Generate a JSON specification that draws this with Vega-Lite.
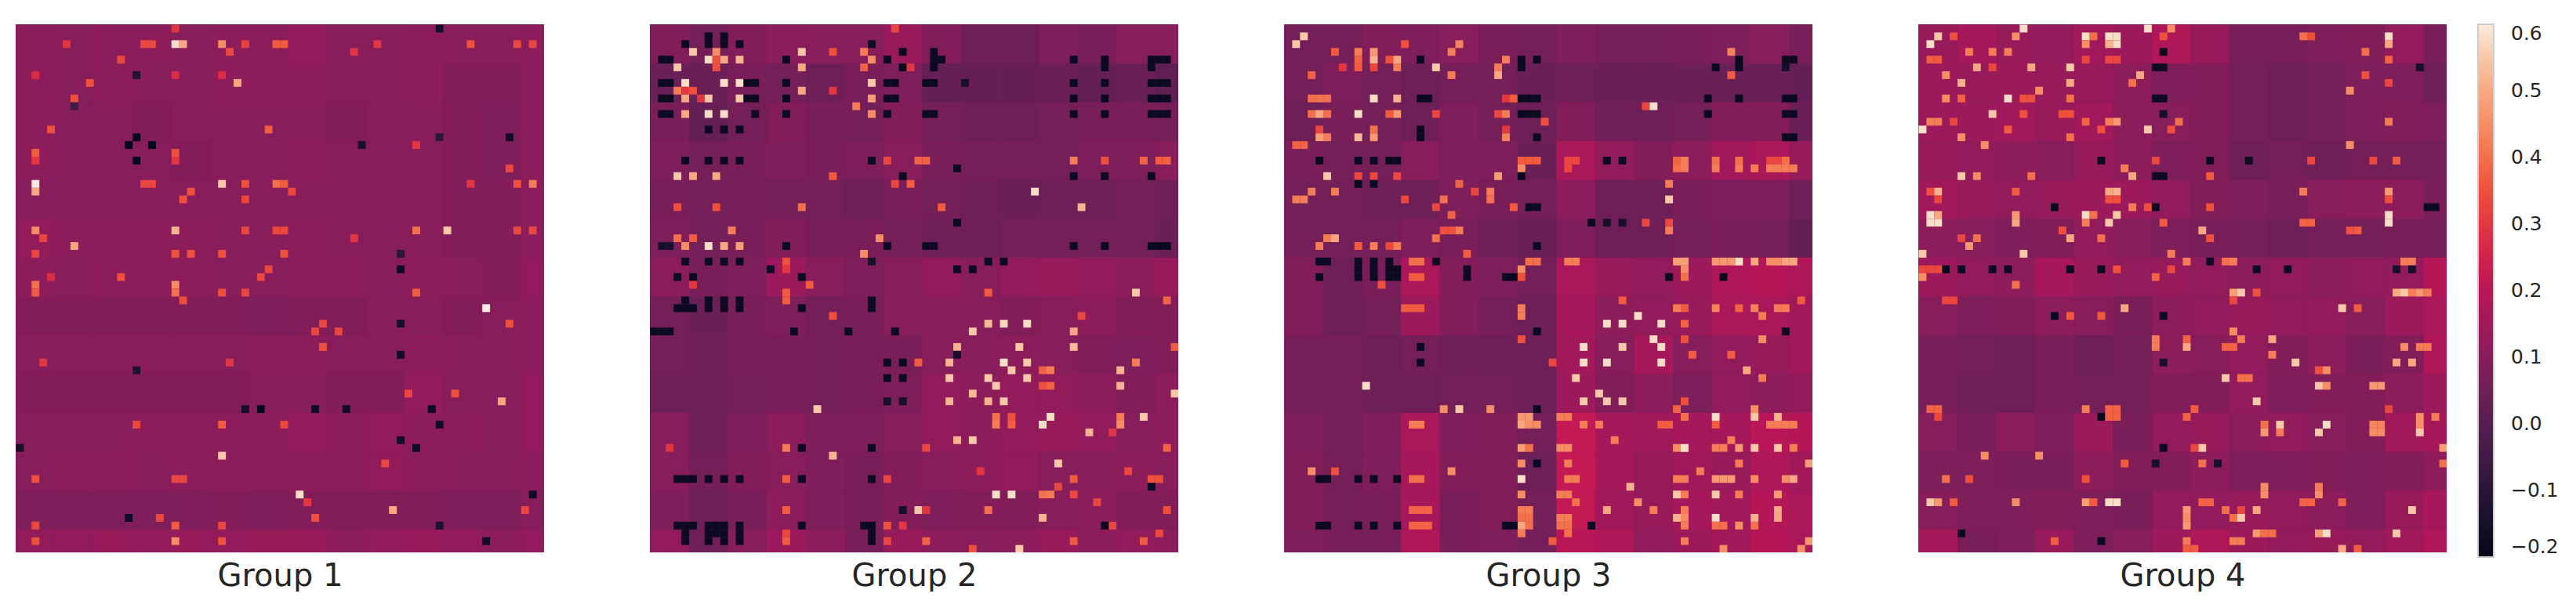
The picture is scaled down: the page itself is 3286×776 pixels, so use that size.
{"$schema":"https://vega.github.io/schema/vega-lite/v6.json","background":"white","padding":{"left":20,"top":31,"right":0,"bottom":0},"autosize":{"type":"pad"},"config":{"view":{"stroke":null,"fill":"#7d1e5b"},"font":"DejaVu Sans","concat":{"spacing":135}},
"datasets":{"b":[
{"g":1,"x":0,"y":0,"v":0.11},{"g":1,"x":5,"y":0,"v":0.10},{"g":1,"x":10,"y":0,"v":0.11},{"g":1,"x":15,"y":0,"v":0.11},{"g":1,"x":20,"y":0,"v":0.10},{"g":1,"x":25,"y":0,"v":0.11},{"g":1,"x":30,"y":0,"v":0.11},{"g":1,"x":35,"y":0,"v":0.12},{"g":1,"x":40,"y":0,"v":0.10},{"g":1,"x":45,"y":0,"v":0.10},{"g":1,"x":50,"y":0,"v":0.11},{"g":1,"x":55,"y":0,"v":0.10},{"g":1,"x":60,"y":0,"v":0.10},{"g":1,"x":65,"y":0,"v":0.11},
{"g":1,"x":0,"y":5,"v":0.11},{"g":1,"x":5,"y":5,"v":0.10},{"g":1,"x":10,"y":5,"v":0.11},{"g":1,"x":15,"y":5,"v":0.10},{"g":1,"x":20,"y":5,"v":0.10},{"g":1,"x":25,"y":5,"v":0.11},{"g":1,"x":30,"y":5,"v":0.11},{"g":1,"x":35,"y":5,"v":0.11},{"g":1,"x":40,"y":5,"v":0.10},{"g":1,"x":45,"y":5,"v":0.10},{"g":1,"x":50,"y":5,"v":0.11},{"g":1,"x":55,"y":5,"v":0.09},{"g":1,"x":60,"y":5,"v":0.09},{"g":1,"x":65,"y":5,"v":0.11},
{"g":1,"x":0,"y":10,"v":0.11},{"g":1,"x":5,"y":10,"v":0.10},{"g":1,"x":10,"y":10,"v":0.10},{"g":1,"x":15,"y":10,"v":0.09},{"g":1,"x":20,"y":10,"v":0.10},{"g":1,"x":25,"y":10,"v":0.10},{"g":1,"x":30,"y":10,"v":0.10},{"g":1,"x":35,"y":10,"v":0.10},{"g":1,"x":40,"y":10,"v":0.09},{"g":1,"x":45,"y":10,"v":0.10},{"g":1,"x":50,"y":10,"v":0.10},{"g":1,"x":55,"y":10,"v":0.09},{"g":1,"x":60,"y":10,"v":0.08},{"g":1,"x":65,"y":10,"v":0.11},
{"g":1,"x":0,"y":15,"v":0.11},{"g":1,"x":5,"y":15,"v":0.10},{"g":1,"x":10,"y":15,"v":0.10},{"g":1,"x":15,"y":15,"v":0.10},{"g":1,"x":20,"y":15,"v":0.09},{"g":1,"x":25,"y":15,"v":0.10},{"g":1,"x":30,"y":15,"v":0.10},{"g":1,"x":35,"y":15,"v":0.11},{"g":1,"x":40,"y":15,"v":0.10},{"g":1,"x":45,"y":15,"v":0.10},{"g":1,"x":50,"y":15,"v":0.10},{"g":1,"x":55,"y":15,"v":0.09},{"g":1,"x":60,"y":15,"v":0.08},{"g":1,"x":65,"y":15,"v":0.11},
{"g":1,"x":0,"y":20,"v":0.10},{"g":1,"x":5,"y":20,"v":0.10},{"g":1,"x":10,"y":20,"v":0.10},{"g":1,"x":15,"y":20,"v":0.10},{"g":1,"x":20,"y":20,"v":0.10},{"g":1,"x":25,"y":20,"v":0.10},{"g":1,"x":30,"y":20,"v":0.10},{"g":1,"x":35,"y":20,"v":0.10},{"g":1,"x":40,"y":20,"v":0.10},{"g":1,"x":45,"y":20,"v":0.10},{"g":1,"x":50,"y":20,"v":0.10},{"g":1,"x":55,"y":20,"v":0.09},{"g":1,"x":60,"y":20,"v":0.09},{"g":1,"x":65,"y":20,"v":0.11},
{"g":1,"x":0,"y":25,"v":0.12},{"g":1,"x":5,"y":25,"v":0.11},{"g":1,"x":10,"y":25,"v":0.11},{"g":1,"x":15,"y":25,"v":0.11},{"g":1,"x":20,"y":25,"v":0.11},{"g":1,"x":25,"y":25,"v":0.10},{"g":1,"x":30,"y":25,"v":0.10},{"g":1,"x":35,"y":25,"v":0.11},{"g":1,"x":40,"y":25,"v":0.10},{"g":1,"x":45,"y":25,"v":0.10},{"g":1,"x":50,"y":25,"v":0.10},{"g":1,"x":55,"y":25,"v":0.09},{"g":1,"x":60,"y":25,"v":0.09},{"g":1,"x":65,"y":25,"v":0.11},
{"g":1,"x":0,"y":30,"v":0.11},{"g":1,"x":5,"y":30,"v":0.10},{"g":1,"x":10,"y":30,"v":0.11},{"g":1,"x":15,"y":30,"v":0.11},{"g":1,"x":20,"y":30,"v":0.11},{"g":1,"x":25,"y":30,"v":0.10},{"g":1,"x":30,"y":30,"v":0.10},{"g":1,"x":35,"y":30,"v":0.11},{"g":1,"x":40,"y":30,"v":0.11},{"g":1,"x":45,"y":30,"v":0.10},{"g":1,"x":50,"y":30,"v":0.11},{"g":1,"x":55,"y":30,"v":0.10},{"g":1,"x":60,"y":30,"v":0.09},{"g":1,"x":65,"y":30,"v":0.12},
{"g":1,"x":0,"y":35,"v":0.09},{"g":1,"x":5,"y":35,"v":0.09},{"g":1,"x":10,"y":35,"v":0.09},{"g":1,"x":15,"y":35,"v":0.09},{"g":1,"x":20,"y":35,"v":0.09},{"g":1,"x":25,"y":35,"v":0.09},{"g":1,"x":30,"y":35,"v":0.08},{"g":1,"x":35,"y":35,"v":0.09},{"g":1,"x":40,"y":35,"v":0.09},{"g":1,"x":45,"y":35,"v":0.10},{"g":1,"x":50,"y":35,"v":0.10},{"g":1,"x":55,"y":35,"v":0.09},{"g":1,"x":60,"y":35,"v":0.10},{"g":1,"x":65,"y":35,"v":0.11},
{"g":1,"x":0,"y":40,"v":0.10},{"g":1,"x":5,"y":40,"v":0.10},{"g":1,"x":10,"y":40,"v":0.10},{"g":1,"x":15,"y":40,"v":0.10},{"g":1,"x":20,"y":40,"v":0.10},{"g":1,"x":25,"y":40,"v":0.10},{"g":1,"x":30,"y":40,"v":0.11},{"g":1,"x":35,"y":40,"v":0.11},{"g":1,"x":40,"y":40,"v":0.10},{"g":1,"x":45,"y":40,"v":0.10},{"g":1,"x":50,"y":40,"v":0.11},{"g":1,"x":55,"y":40,"v":0.10},{"g":1,"x":60,"y":40,"v":0.10},{"g":1,"x":65,"y":40,"v":0.11},
{"g":1,"x":0,"y":45,"v":0.09},{"g":1,"x":5,"y":45,"v":0.09},{"g":1,"x":10,"y":45,"v":0.09},{"g":1,"x":15,"y":45,"v":0.09},{"g":1,"x":20,"y":45,"v":0.09},{"g":1,"x":25,"y":45,"v":0.09},{"g":1,"x":30,"y":45,"v":0.10},{"g":1,"x":35,"y":45,"v":0.10},{"g":1,"x":40,"y":45,"v":0.09},{"g":1,"x":45,"y":45,"v":0.09},{"g":1,"x":50,"y":45,"v":0.12},{"g":1,"x":55,"y":45,"v":0.10},{"g":1,"x":60,"y":45,"v":0.10},{"g":1,"x":65,"y":45,"v":0.12},
{"g":1,"x":0,"y":50,"v":0.10},{"g":1,"x":5,"y":50,"v":0.10},{"g":1,"x":10,"y":50,"v":0.10},{"g":1,"x":15,"y":50,"v":0.11},{"g":1,"x":20,"y":50,"v":0.11},{"g":1,"x":25,"y":50,"v":0.11},{"g":1,"x":30,"y":50,"v":0.11},{"g":1,"x":35,"y":50,"v":0.12},{"g":1,"x":40,"y":50,"v":0.11},{"g":1,"x":45,"y":50,"v":0.12},{"g":1,"x":50,"y":50,"v":0.11},{"g":1,"x":55,"y":50,"v":0.11},{"g":1,"x":60,"y":50,"v":0.10},{"g":1,"x":65,"y":50,"v":0.12},
{"g":1,"x":0,"y":55,"v":0.10},{"g":1,"x":5,"y":55,"v":0.11},{"g":1,"x":10,"y":55,"v":0.11},{"g":1,"x":15,"y":55,"v":0.10},{"g":1,"x":20,"y":55,"v":0.11},{"g":1,"x":25,"y":55,"v":0.11},{"g":1,"x":30,"y":55,"v":0.11},{"g":1,"x":35,"y":55,"v":0.11},{"g":1,"x":40,"y":55,"v":0.11},{"g":1,"x":45,"y":55,"v":0.12},{"g":1,"x":50,"y":55,"v":0.11},{"g":1,"x":55,"y":55,"v":0.10},{"g":1,"x":60,"y":55,"v":0.10},{"g":1,"x":65,"y":55,"v":0.11},
{"g":1,"x":0,"y":60,"v":0.08},{"g":1,"x":5,"y":60,"v":0.08},{"g":1,"x":10,"y":60,"v":0.08},{"g":1,"x":15,"y":60,"v":0.08},{"g":1,"x":20,"y":60,"v":0.08},{"g":1,"x":25,"y":60,"v":0.09},{"g":1,"x":30,"y":60,"v":0.08},{"g":1,"x":35,"y":60,"v":0.09},{"g":1,"x":40,"y":60,"v":0.09},{"g":1,"x":45,"y":60,"v":0.09},{"g":1,"x":50,"y":60,"v":0.09},{"g":1,"x":55,"y":60,"v":0.08},{"g":1,"x":60,"y":60,"v":0.08},{"g":1,"x":65,"y":60,"v":0.10},
{"g":1,"x":0,"y":65,"v":0.12},{"g":1,"x":5,"y":65,"v":0.12},{"g":1,"x":10,"y":65,"v":0.13},{"g":1,"x":15,"y":65,"v":0.12},{"g":1,"x":20,"y":65,"v":0.13},{"g":1,"x":25,"y":65,"v":0.12},{"g":1,"x":30,"y":65,"v":0.13},{"g":1,"x":35,"y":65,"v":0.13},{"g":1,"x":40,"y":65,"v":0.11},{"g":1,"x":45,"y":65,"v":0.12},{"g":1,"x":50,"y":65,"v":0.13},{"g":1,"x":55,"y":65,"v":0.12},{"g":1,"x":60,"y":65,"v":0.11},{"g":1,"x":65,"y":65,"v":0.12},
{"g":2,"x":0,"y":0,"v":0.09},{"g":2,"x":5,"y":0,"v":0.06},{"g":2,"x":10,"y":0,"v":0.09},{"g":2,"x":15,"y":0,"v":0.11},{"g":2,"x":20,"y":0,"v":0.10},{"g":2,"x":25,"y":0,"v":0.10},{"g":2,"x":30,"y":0,"v":0.13},{"g":2,"x":35,"y":0,"v":0.09},{"g":2,"x":40,"y":0,"v":0.05},{"g":2,"x":45,"y":0,"v":0.05},{"g":2,"x":50,"y":0,"v":0.08},{"g":2,"x":55,"y":0,"v":0.07},{"g":2,"x":60,"y":0,"v":0.10},{"g":2,"x":65,"y":0,"v":0.10},
{"g":2,"x":0,"y":5,"v":0.04},{"g":2,"x":5,"y":5,"v":0.04},{"g":2,"x":10,"y":5,"v":0.07},{"g":2,"x":15,"y":5,"v":0.06},{"g":2,"x":20,"y":5,"v":0.05},{"g":2,"x":25,"y":5,"v":0.07},{"g":2,"x":30,"y":5,"v":0.08},{"g":2,"x":35,"y":5,"v":0.03},{"g":2,"x":40,"y":5,"v":0.03},{"g":2,"x":45,"y":5,"v":0.03},{"g":2,"x":50,"y":5,"v":0.04},{"g":2,"x":55,"y":5,"v":0.03},{"g":2,"x":60,"y":5,"v":0.04},{"g":2,"x":65,"y":5,"v":0.02},
{"g":2,"x":0,"y":10,"v":0.07},{"g":2,"x":5,"y":10,"v":0.03},{"g":2,"x":10,"y":10,"v":0.06},{"g":2,"x":15,"y":10,"v":0.09},{"g":2,"x":20,"y":10,"v":0.07},{"g":2,"x":25,"y":10,"v":0.06},{"g":2,"x":30,"y":10,"v":0.09},{"g":2,"x":35,"y":10,"v":0.06},{"g":2,"x":40,"y":10,"v":0.05},{"g":2,"x":45,"y":10,"v":0.05},{"g":2,"x":50,"y":10,"v":0.06},{"g":2,"x":55,"y":10,"v":0.07},{"g":2,"x":60,"y":10,"v":0.07},{"g":2,"x":65,"y":10,"v":0.06},
{"g":2,"x":0,"y":15,"v":0.08},{"g":2,"x":5,"y":15,"v":0.06},{"g":2,"x":10,"y":15,"v":0.07},{"g":2,"x":15,"y":15,"v":0.08},{"g":2,"x":20,"y":15,"v":0.07},{"g":2,"x":25,"y":15,"v":0.08},{"g":2,"x":30,"y":15,"v":0.10},{"g":2,"x":35,"y":15,"v":0.07},{"g":2,"x":40,"y":15,"v":0.06},{"g":2,"x":45,"y":15,"v":0.06},{"g":2,"x":50,"y":15,"v":0.06},{"g":2,"x":55,"y":15,"v":0.08},{"g":2,"x":60,"y":15,"v":0.08},{"g":2,"x":65,"y":15,"v":0.10},
{"g":2,"x":0,"y":20,"v":0.07},{"g":2,"x":5,"y":20,"v":0.06},{"g":2,"x":10,"y":20,"v":0.07},{"g":2,"x":15,"y":20,"v":0.06},{"g":2,"x":20,"y":20,"v":0.06},{"g":2,"x":25,"y":20,"v":0.05},{"g":2,"x":30,"y":20,"v":0.07},{"g":2,"x":35,"y":20,"v":0.06},{"g":2,"x":40,"y":20,"v":0.05},{"g":2,"x":45,"y":20,"v":0.04},{"g":2,"x":50,"y":20,"v":0.05},{"g":2,"x":55,"y":20,"v":0.05},{"g":2,"x":60,"y":20,"v":0.06},{"g":2,"x":65,"y":20,"v":0.05},
{"g":2,"x":0,"y":25,"v":0.08},{"g":2,"x":5,"y":25,"v":0.06},{"g":2,"x":10,"y":25,"v":0.07},{"g":2,"x":15,"y":25,"v":0.09},{"g":2,"x":20,"y":25,"v":0.07},{"g":2,"x":25,"y":25,"v":0.07},{"g":2,"x":30,"y":25,"v":0.06},{"g":2,"x":35,"y":25,"v":0.05},{"g":2,"x":40,"y":25,"v":0.05},{"g":2,"x":45,"y":25,"v":0.06},{"g":2,"x":50,"y":25,"v":0.06},{"g":2,"x":55,"y":25,"v":0.06},{"g":2,"x":60,"y":25,"v":0.06},{"g":2,"x":65,"y":25,"v":0.04},
{"g":2,"x":0,"y":30,"v":0.11},{"g":2,"x":5,"y":30,"v":0.07},{"g":2,"x":10,"y":30,"v":0.08},{"g":2,"x":15,"y":30,"v":0.14},{"g":2,"x":20,"y":30,"v":0.10},{"g":2,"x":25,"y":30,"v":0.08},{"g":2,"x":30,"y":30,"v":0.10},{"g":2,"x":35,"y":30,"v":0.12},{"g":2,"x":40,"y":30,"v":0.10},{"g":2,"x":45,"y":30,"v":0.12},{"g":2,"x":50,"y":30,"v":0.13},{"g":2,"x":55,"y":30,"v":0.12},{"g":2,"x":60,"y":30,"v":0.11},{"g":2,"x":65,"y":30,"v":0.13},
{"g":2,"x":0,"y":35,"v":0.06},{"g":2,"x":5,"y":35,"v":0.04},{"g":2,"x":10,"y":35,"v":0.07},{"g":2,"x":15,"y":35,"v":0.08},{"g":2,"x":20,"y":35,"v":0.06},{"g":2,"x":25,"y":35,"v":0.07},{"g":2,"x":30,"y":35,"v":0.10},{"g":2,"x":35,"y":35,"v":0.10},{"g":2,"x":40,"y":35,"v":0.10},{"g":2,"x":45,"y":35,"v":0.09},{"g":2,"x":50,"y":35,"v":0.10},{"g":2,"x":55,"y":35,"v":0.11},{"g":2,"x":60,"y":35,"v":0.09},{"g":2,"x":65,"y":35,"v":0.09},
{"g":2,"x":0,"y":40,"v":0.06},{"g":2,"x":5,"y":40,"v":0.05},{"g":2,"x":10,"y":40,"v":0.07},{"g":2,"x":15,"y":40,"v":0.07},{"g":2,"x":20,"y":40,"v":0.06},{"g":2,"x":25,"y":40,"v":0.07},{"g":2,"x":30,"y":40,"v":0.07},{"g":2,"x":35,"y":40,"v":0.10},{"g":2,"x":40,"y":40,"v":0.10},{"g":2,"x":45,"y":40,"v":0.11},{"g":2,"x":50,"y":40,"v":0.10},{"g":2,"x":55,"y":40,"v":0.09},{"g":2,"x":60,"y":40,"v":0.08},{"g":2,"x":65,"y":40,"v":0.09},
{"g":2,"x":0,"y":45,"v":0.05},{"g":2,"x":5,"y":45,"v":0.05},{"g":2,"x":10,"y":45,"v":0.06},{"g":2,"x":15,"y":45,"v":0.07},{"g":2,"x":20,"y":45,"v":0.06},{"g":2,"x":25,"y":45,"v":0.07},{"g":2,"x":30,"y":45,"v":0.08},{"g":2,"x":35,"y":45,"v":0.12},{"g":2,"x":40,"y":45,"v":0.11},{"g":2,"x":45,"y":45,"v":0.12},{"g":2,"x":50,"y":45,"v":0.12},{"g":2,"x":55,"y":45,"v":0.11},{"g":2,"x":60,"y":45,"v":0.09},{"g":2,"x":65,"y":45,"v":0.11},
{"g":2,"x":0,"y":50,"v":0.10},{"g":2,"x":5,"y":50,"v":0.05},{"g":2,"x":10,"y":50,"v":0.08},{"g":2,"x":15,"y":50,"v":0.11},{"g":2,"x":20,"y":50,"v":0.08},{"g":2,"x":25,"y":50,"v":0.08},{"g":2,"x":30,"y":50,"v":0.10},{"g":2,"x":35,"y":50,"v":0.12},{"g":2,"x":40,"y":50,"v":0.11},{"g":2,"x":45,"y":50,"v":0.12},{"g":2,"x":50,"y":50,"v":0.13},{"g":2,"x":55,"y":50,"v":0.12},{"g":2,"x":60,"y":50,"v":0.10},{"g":2,"x":65,"y":50,"v":0.11},
{"g":2,"x":0,"y":55,"v":0.10},{"g":2,"x":5,"y":55,"v":0.06},{"g":2,"x":10,"y":55,"v":0.09},{"g":2,"x":15,"y":55,"v":0.10},{"g":2,"x":20,"y":55,"v":0.08},{"g":2,"x":25,"y":55,"v":0.07},{"g":2,"x":30,"y":55,"v":0.09},{"g":2,"x":35,"y":55,"v":0.10},{"g":2,"x":40,"y":55,"v":0.11},{"g":2,"x":45,"y":55,"v":0.12},{"g":2,"x":50,"y":55,"v":0.10},{"g":2,"x":55,"y":55,"v":0.10},{"g":2,"x":60,"y":55,"v":0.11},{"g":2,"x":65,"y":55,"v":0.10},
{"g":2,"x":0,"y":60,"v":0.08},{"g":2,"x":5,"y":60,"v":0.05},{"g":2,"x":10,"y":60,"v":0.07},{"g":2,"x":15,"y":60,"v":0.11},{"g":2,"x":20,"y":60,"v":0.08},{"g":2,"x":25,"y":60,"v":0.07},{"g":2,"x":30,"y":60,"v":0.09},{"g":2,"x":35,"y":60,"v":0.08},{"g":2,"x":40,"y":60,"v":0.09},{"g":2,"x":45,"y":60,"v":0.09},{"g":2,"x":50,"y":60,"v":0.10},{"g":2,"x":55,"y":60,"v":0.11},{"g":2,"x":60,"y":60,"v":0.09},{"g":2,"x":65,"y":60,"v":0.09},
{"g":2,"x":0,"y":65,"v":0.12},{"g":2,"x":5,"y":65,"v":0.05},{"g":2,"x":10,"y":65,"v":0.10},{"g":2,"x":15,"y":65,"v":0.14},{"g":2,"x":20,"y":65,"v":0.11},{"g":2,"x":25,"y":65,"v":0.07},{"g":2,"x":30,"y":65,"v":0.13},{"g":2,"x":35,"y":65,"v":0.11},{"g":2,"x":40,"y":65,"v":0.10},{"g":2,"x":45,"y":65,"v":0.11},{"g":2,"x":50,"y":65,"v":0.13},{"g":2,"x":55,"y":65,"v":0.11},{"g":2,"x":60,"y":65,"v":0.12},{"g":2,"x":65,"y":65,"v":0.11},
{"g":3,"x":0,"y":0,"v":0.06},{"g":3,"x":5,"y":0,"v":0.06},{"g":3,"x":10,"y":0,"v":0.09},{"g":3,"x":15,"y":0,"v":0.08},{"g":3,"x":20,"y":0,"v":0.10},{"g":3,"x":25,"y":0,"v":0.07},{"g":3,"x":30,"y":0,"v":0.06},{"g":3,"x":35,"y":0,"v":0.08},{"g":3,"x":40,"y":0,"v":0.06},{"g":3,"x":45,"y":0,"v":0.06},{"g":3,"x":50,"y":0,"v":0.07},{"g":3,"x":55,"y":0,"v":0.08},{"g":3,"x":60,"y":0,"v":0.10},{"g":3,"x":65,"y":0,"v":0.07},
{"g":3,"x":0,"y":5,"v":0.06},{"g":3,"x":5,"y":5,"v":0.08},{"g":3,"x":10,"y":5,"v":0.06},{"g":3,"x":15,"y":5,"v":0.05},{"g":3,"x":20,"y":5,"v":0.06},{"g":3,"x":25,"y":5,"v":0.06},{"g":3,"x":30,"y":5,"v":0.04},{"g":3,"x":35,"y":5,"v":0.05},{"g":3,"x":40,"y":5,"v":0.04},{"g":3,"x":45,"y":5,"v":0.04},{"g":3,"x":50,"y":5,"v":0.04},{"g":3,"x":55,"y":5,"v":0.04},{"g":3,"x":60,"y":5,"v":0.04},{"g":3,"x":65,"y":5,"v":0.03},
{"g":3,"x":0,"y":10,"v":0.05},{"g":3,"x":5,"y":10,"v":0.07},{"g":3,"x":10,"y":10,"v":0.06},{"g":3,"x":15,"y":10,"v":0.05},{"g":3,"x":20,"y":10,"v":0.08},{"g":3,"x":25,"y":10,"v":0.06},{"g":3,"x":30,"y":10,"v":0.05},{"g":3,"x":35,"y":10,"v":0.09},{"g":3,"x":40,"y":10,"v":0.05},{"g":3,"x":45,"y":10,"v":0.05},{"g":3,"x":50,"y":10,"v":0.06},{"g":3,"x":55,"y":10,"v":0.09},{"g":3,"x":60,"y":10,"v":0.09},{"g":3,"x":65,"y":10,"v":0.04},
{"g":3,"x":0,"y":15,"v":0.07},{"g":3,"x":5,"y":15,"v":0.06},{"g":3,"x":10,"y":15,"v":0.06},{"g":3,"x":15,"y":15,"v":0.10},{"g":3,"x":20,"y":15,"v":0.08},{"g":3,"x":25,"y":15,"v":0.08},{"g":3,"x":30,"y":15,"v":0.04},{"g":3,"x":35,"y":15,"v":0.17},{"g":3,"x":40,"y":15,"v":0.12},{"g":3,"x":45,"y":15,"v":0.09},{"g":3,"x":50,"y":15,"v":0.11},{"g":3,"x":55,"y":15,"v":0.15},{"g":3,"x":60,"y":15,"v":0.17},{"g":3,"x":65,"y":15,"v":0.13},
{"g":3,"x":0,"y":20,"v":0.06},{"g":3,"x":5,"y":20,"v":0.06},{"g":3,"x":10,"y":20,"v":0.05},{"g":3,"x":15,"y":20,"v":0.05},{"g":3,"x":20,"y":20,"v":0.08},{"g":3,"x":25,"y":20,"v":0.07},{"g":3,"x":30,"y":20,"v":0.06},{"g":3,"x":35,"y":20,"v":0.11},{"g":3,"x":40,"y":20,"v":0.05},{"g":3,"x":45,"y":20,"v":0.05},{"g":3,"x":50,"y":20,"v":0.07},{"g":3,"x":55,"y":20,"v":0.08},{"g":3,"x":60,"y":20,"v":0.08},{"g":3,"x":65,"y":20,"v":0.05},
{"g":3,"x":0,"y":25,"v":0.06},{"g":3,"x":5,"y":25,"v":0.06},{"g":3,"x":10,"y":25,"v":0.06},{"g":3,"x":15,"y":25,"v":0.08},{"g":3,"x":20,"y":25,"v":0.07},{"g":3,"x":25,"y":25,"v":0.05},{"g":3,"x":30,"y":25,"v":0.04},{"g":3,"x":35,"y":25,"v":0.08},{"g":3,"x":40,"y":25,"v":0.05},{"g":3,"x":45,"y":25,"v":0.05},{"g":3,"x":50,"y":25,"v":0.06},{"g":3,"x":55,"y":25,"v":0.07},{"g":3,"x":60,"y":25,"v":0.06},{"g":3,"x":65,"y":25,"v":0.03},
{"g":3,"x":0,"y":30,"v":0.09},{"g":3,"x":5,"y":30,"v":0.05},{"g":3,"x":10,"y":30,"v":0.07},{"g":3,"x":15,"y":30,"v":0.17},{"g":3,"x":20,"y":30,"v":0.09},{"g":3,"x":25,"y":30,"v":0.08},{"g":3,"x":30,"y":30,"v":0.06},{"g":3,"x":35,"y":30,"v":0.17},{"g":3,"x":40,"y":30,"v":0.13},{"g":3,"x":45,"y":30,"v":0.12},{"g":3,"x":50,"y":30,"v":0.14},{"g":3,"x":55,"y":30,"v":0.18},{"g":3,"x":60,"y":30,"v":0.19},{"g":3,"x":65,"y":30,"v":0.18},
{"g":3,"x":0,"y":35,"v":0.09},{"g":3,"x":5,"y":35,"v":0.05},{"g":3,"x":10,"y":35,"v":0.06},{"g":3,"x":15,"y":35,"v":0.14},{"g":3,"x":20,"y":35,"v":0.09},{"g":3,"x":25,"y":35,"v":0.06},{"g":3,"x":30,"y":35,"v":0.05},{"g":3,"x":35,"y":35,"v":0.16},{"g":3,"x":40,"y":35,"v":0.11},{"g":3,"x":45,"y":35,"v":0.12},{"g":3,"x":50,"y":35,"v":0.13},{"g":3,"x":55,"y":35,"v":0.17},{"g":3,"x":60,"y":35,"v":0.17},{"g":3,"x":65,"y":35,"v":0.15},
{"g":3,"x":0,"y":40,"v":0.06},{"g":3,"x":5,"y":40,"v":0.06},{"g":3,"x":10,"y":40,"v":0.05},{"g":3,"x":15,"y":40,"v":0.06},{"g":3,"x":20,"y":40,"v":0.05},{"g":3,"x":25,"y":40,"v":0.05},{"g":3,"x":30,"y":40,"v":0.05},{"g":3,"x":35,"y":40,"v":0.15},{"g":3,"x":40,"y":40,"v":0.10},{"g":3,"x":45,"y":40,"v":0.16},{"g":3,"x":50,"y":40,"v":0.10},{"g":3,"x":55,"y":40,"v":0.12},{"g":3,"x":60,"y":40,"v":0.13},{"g":3,"x":65,"y":40,"v":0.15},
{"g":3,"x":0,"y":45,"v":0.06},{"g":3,"x":5,"y":45,"v":0.06},{"g":3,"x":10,"y":45,"v":0.05},{"g":3,"x":15,"y":45,"v":0.05},{"g":3,"x":20,"y":45,"v":0.06},{"g":3,"x":25,"y":45,"v":0.06},{"g":3,"x":30,"y":45,"v":0.05},{"g":3,"x":35,"y":45,"v":0.14},{"g":3,"x":40,"y":45,"v":0.09},{"g":3,"x":45,"y":45,"v":0.11},{"g":3,"x":50,"y":45,"v":0.08},{"g":3,"x":55,"y":45,"v":0.12},{"g":3,"x":60,"y":45,"v":0.11},{"g":3,"x":65,"y":45,"v":0.12},
{"g":3,"x":0,"y":50,"v":0.08},{"g":3,"x":5,"y":50,"v":0.06},{"g":3,"x":10,"y":50,"v":0.08},{"g":3,"x":15,"y":50,"v":0.17},{"g":3,"x":20,"y":50,"v":0.08},{"g":3,"x":25,"y":50,"v":0.09},{"g":3,"x":30,"y":50,"v":0.06},{"g":3,"x":35,"y":50,"v":0.22},{"g":3,"x":40,"y":50,"v":0.16},{"g":3,"x":45,"y":50,"v":0.15},{"g":3,"x":50,"y":50,"v":0.16},{"g":3,"x":55,"y":50,"v":0.16},{"g":3,"x":60,"y":50,"v":0.20},{"g":3,"x":65,"y":50,"v":0.19},
{"g":3,"x":0,"y":55,"v":0.09},{"g":3,"x":5,"y":55,"v":0.06},{"g":3,"x":10,"y":55,"v":0.08},{"g":3,"x":15,"y":55,"v":0.16},{"g":3,"x":20,"y":55,"v":0.09},{"g":3,"x":25,"y":55,"v":0.09},{"g":3,"x":30,"y":55,"v":0.05},{"g":3,"x":35,"y":55,"v":0.22},{"g":3,"x":40,"y":55,"v":0.16},{"g":3,"x":45,"y":55,"v":0.13},{"g":3,"x":50,"y":55,"v":0.15},{"g":3,"x":55,"y":55,"v":0.13},{"g":3,"x":60,"y":55,"v":0.18},{"g":3,"x":65,"y":55,"v":0.15},
{"g":3,"x":0,"y":60,"v":0.09},{"g":3,"x":5,"y":60,"v":0.06},{"g":3,"x":10,"y":60,"v":0.07},{"g":3,"x":15,"y":60,"v":0.16},{"g":3,"x":20,"y":60,"v":0.07},{"g":3,"x":25,"y":60,"v":0.09},{"g":3,"x":30,"y":60,"v":0.06},{"g":3,"x":35,"y":60,"v":0.22},{"g":3,"x":40,"y":60,"v":0.15},{"g":3,"x":45,"y":60,"v":0.13},{"g":3,"x":50,"y":60,"v":0.16},{"g":3,"x":55,"y":60,"v":0.15},{"g":3,"x":60,"y":60,"v":0.19},{"g":3,"x":65,"y":60,"v":0.17},
{"g":3,"x":0,"y":65,"v":0.08},{"g":3,"x":5,"y":65,"v":0.07},{"g":3,"x":10,"y":65,"v":0.07},{"g":3,"x":15,"y":65,"v":0.18},{"g":3,"x":20,"y":65,"v":0.07},{"g":3,"x":25,"y":65,"v":0.08},{"g":3,"x":30,"y":65,"v":0.06},{"g":3,"x":35,"y":65,"v":0.20},{"g":3,"x":40,"y":65,"v":0.18},{"g":3,"x":45,"y":65,"v":0.12},{"g":3,"x":50,"y":65,"v":0.14},{"g":3,"x":55,"y":65,"v":0.15},{"g":3,"x":60,"y":65,"v":0.19},{"g":3,"x":65,"y":65,"v":0.17},
{"g":4,"x":0,"y":0,"v":0.13},{"g":4,"x":5,"y":0,"v":0.16},{"g":4,"x":10,"y":0,"v":0.13},{"g":4,"x":15,"y":0,"v":0.12},{"g":4,"x":20,"y":0,"v":0.15},{"g":4,"x":25,"y":0,"v":0.14},{"g":4,"x":30,"y":0,"v":0.18},{"g":4,"x":35,"y":0,"v":0.13},{"g":4,"x":40,"y":0,"v":0.07},{"g":4,"x":45,"y":0,"v":0.07},{"g":4,"x":50,"y":0,"v":0.08},{"g":4,"x":55,"y":0,"v":0.09},{"g":4,"x":60,"y":0,"v":0.12},{"g":4,"x":65,"y":0,"v":0.07},
{"g":4,"x":0,"y":5,"v":0.14},{"g":4,"x":5,"y":5,"v":0.13},{"g":4,"x":10,"y":5,"v":0.14},{"g":4,"x":15,"y":5,"v":0.13},{"g":4,"x":20,"y":5,"v":0.13},{"g":4,"x":25,"y":5,"v":0.11},{"g":4,"x":30,"y":5,"v":0.08},{"g":4,"x":35,"y":5,"v":0.09},{"g":4,"x":40,"y":5,"v":0.06},{"g":4,"x":45,"y":5,"v":0.05},{"g":4,"x":50,"y":5,"v":0.06},{"g":4,"x":55,"y":5,"v":0.08},{"g":4,"x":60,"y":5,"v":0.08},{"g":4,"x":65,"y":5,"v":0.05},
{"g":4,"x":0,"y":10,"v":0.14},{"g":4,"x":5,"y":10,"v":0.14},{"g":4,"x":10,"y":10,"v":0.15},{"g":4,"x":15,"y":10,"v":0.13},{"g":4,"x":20,"y":10,"v":0.15},{"g":4,"x":25,"y":10,"v":0.11},{"g":4,"x":30,"y":10,"v":0.10},{"g":4,"x":35,"y":10,"v":0.09},{"g":4,"x":40,"y":10,"v":0.06},{"g":4,"x":45,"y":10,"v":0.05},{"g":4,"x":50,"y":10,"v":0.06},{"g":4,"x":55,"y":10,"v":0.08},{"g":4,"x":60,"y":10,"v":0.09},{"g":4,"x":65,"y":10,"v":0.08},
{"g":4,"x":0,"y":15,"v":0.13},{"g":4,"x":5,"y":15,"v":0.12},{"g":4,"x":10,"y":15,"v":0.11},{"g":4,"x":15,"y":15,"v":0.10},{"g":4,"x":20,"y":15,"v":0.13},{"g":4,"x":25,"y":15,"v":0.11},{"g":4,"x":30,"y":15,"v":0.08},{"g":4,"x":35,"y":15,"v":0.09},{"g":4,"x":40,"y":15,"v":0.05},{"g":4,"x":45,"y":15,"v":0.06},{"g":4,"x":50,"y":15,"v":0.05},{"g":4,"x":55,"y":15,"v":0.06},{"g":4,"x":60,"y":15,"v":0.06},{"g":4,"x":65,"y":15,"v":0.06},
{"g":4,"x":0,"y":20,"v":0.15},{"g":4,"x":5,"y":20,"v":0.13},{"g":4,"x":10,"y":20,"v":0.12},{"g":4,"x":15,"y":20,"v":0.13},{"g":4,"x":20,"y":20,"v":0.14},{"g":4,"x":25,"y":20,"v":0.14},{"g":4,"x":30,"y":20,"v":0.12},{"g":4,"x":35,"y":20,"v":0.09},{"g":4,"x":40,"y":20,"v":0.08},{"g":4,"x":45,"y":20,"v":0.07},{"g":4,"x":50,"y":20,"v":0.10},{"g":4,"x":55,"y":20,"v":0.11},{"g":4,"x":60,"y":20,"v":0.11},{"g":4,"x":65,"y":20,"v":0.07},
{"g":4,"x":0,"y":25,"v":0.11},{"g":4,"x":5,"y":25,"v":0.10},{"g":4,"x":10,"y":25,"v":0.08},{"g":4,"x":15,"y":25,"v":0.09},{"g":4,"x":20,"y":25,"v":0.12},{"g":4,"x":25,"y":25,"v":0.10},{"g":4,"x":30,"y":25,"v":0.08},{"g":4,"x":35,"y":25,"v":0.07},{"g":4,"x":40,"y":25,"v":0.06},{"g":4,"x":45,"y":25,"v":0.05},{"g":4,"x":50,"y":25,"v":0.06},{"g":4,"x":55,"y":25,"v":0.06},{"g":4,"x":60,"y":25,"v":0.07},{"g":4,"x":65,"y":25,"v":0.06},
{"g":4,"x":0,"y":30,"v":0.14},{"g":4,"x":5,"y":30,"v":0.12},{"g":4,"x":10,"y":30,"v":0.11},{"g":4,"x":15,"y":30,"v":0.16},{"g":4,"x":20,"y":30,"v":0.13},{"g":4,"x":25,"y":30,"v":0.12},{"g":4,"x":30,"y":30,"v":0.13},{"g":4,"x":35,"y":30,"v":0.12},{"g":4,"x":40,"y":30,"v":0.11},{"g":4,"x":45,"y":30,"v":0.12},{"g":4,"x":50,"y":30,"v":0.11},{"g":4,"x":55,"y":30,"v":0.12},{"g":4,"x":60,"y":30,"v":0.12},{"g":4,"x":65,"y":30,"v":0.19},
{"g":4,"x":0,"y":35,"v":0.10},{"g":4,"x":5,"y":35,"v":0.08},{"g":4,"x":10,"y":35,"v":0.09},{"g":4,"x":15,"y":35,"v":0.11},{"g":4,"x":20,"y":35,"v":0.10},{"g":4,"x":25,"y":35,"v":0.07},{"g":4,"x":30,"y":35,"v":0.11},{"g":4,"x":35,"y":35,"v":0.12},{"g":4,"x":40,"y":35,"v":0.13},{"g":4,"x":45,"y":35,"v":0.12},{"g":4,"x":50,"y":35,"v":0.12},{"g":4,"x":55,"y":35,"v":0.10},{"g":4,"x":60,"y":35,"v":0.14},{"g":4,"x":65,"y":35,"v":0.17},
{"g":4,"x":0,"y":40,"v":0.07},{"g":4,"x":5,"y":40,"v":0.06},{"g":4,"x":10,"y":40,"v":0.05},{"g":4,"x":15,"y":40,"v":0.07},{"g":4,"x":20,"y":40,"v":0.05},{"g":4,"x":25,"y":40,"v":0.06},{"g":4,"x":30,"y":40,"v":0.11},{"g":4,"x":35,"y":40,"v":0.10},{"g":4,"x":40,"y":40,"v":0.12},{"g":4,"x":45,"y":40,"v":0.09},{"g":4,"x":50,"y":40,"v":0.11},{"g":4,"x":55,"y":40,"v":0.07},{"g":4,"x":60,"y":40,"v":0.09},{"g":4,"x":65,"y":40,"v":0.18},
{"g":4,"x":0,"y":45,"v":0.07},{"g":4,"x":5,"y":45,"v":0.05},{"g":4,"x":10,"y":45,"v":0.05},{"g":4,"x":15,"y":45,"v":0.07},{"g":4,"x":20,"y":45,"v":0.06},{"g":4,"x":25,"y":45,"v":0.06},{"g":4,"x":30,"y":45,"v":0.09},{"g":4,"x":35,"y":45,"v":0.09},{"g":4,"x":40,"y":45,"v":0.12},{"g":4,"x":45,"y":45,"v":0.08},{"g":4,"x":50,"y":45,"v":0.09},{"g":4,"x":55,"y":45,"v":0.09},{"g":4,"x":60,"y":45,"v":0.11},{"g":4,"x":65,"y":45,"v":0.14},
{"g":4,"x":0,"y":50,"v":0.10},{"g":4,"x":5,"y":50,"v":0.07},{"g":4,"x":10,"y":50,"v":0.11},{"g":4,"x":15,"y":50,"v":0.08},{"g":4,"x":20,"y":50,"v":0.14},{"g":4,"x":25,"y":50,"v":0.07},{"g":4,"x":30,"y":50,"v":0.12},{"g":4,"x":35,"y":50,"v":0.13},{"g":4,"x":40,"y":50,"v":0.11},{"g":4,"x":45,"y":50,"v":0.12},{"g":4,"x":50,"y":50,"v":0.10},{"g":4,"x":55,"y":50,"v":0.09},{"g":4,"x":60,"y":50,"v":0.15},{"g":4,"x":65,"y":50,"v":0.16},
{"g":4,"x":0,"y":55,"v":0.08},{"g":4,"x":5,"y":55,"v":0.08},{"g":4,"x":10,"y":55,"v":0.07},{"g":4,"x":15,"y":55,"v":0.07},{"g":4,"x":20,"y":55,"v":0.11},{"g":4,"x":25,"y":55,"v":0.09},{"g":4,"x":30,"y":55,"v":0.09},{"g":4,"x":35,"y":55,"v":0.11},{"g":4,"x":40,"y":55,"v":0.08},{"g":4,"x":45,"y":55,"v":0.08},{"g":4,"x":50,"y":55,"v":0.09},{"g":4,"x":55,"y":55,"v":0.08},{"g":4,"x":60,"y":55,"v":0.09},{"g":4,"x":65,"y":55,"v":0.11},
{"g":4,"x":0,"y":60,"v":0.10},{"g":4,"x":5,"y":60,"v":0.08},{"g":4,"x":10,"y":60,"v":0.08},{"g":4,"x":15,"y":60,"v":0.09},{"g":4,"x":20,"y":60,"v":0.08},{"g":4,"x":25,"y":60,"v":0.07},{"g":4,"x":30,"y":60,"v":0.12},{"g":4,"x":35,"y":60,"v":0.12},{"g":4,"x":40,"y":60,"v":0.13},{"g":4,"x":45,"y":60,"v":0.12},{"g":4,"x":50,"y":60,"v":0.11},{"g":4,"x":55,"y":60,"v":0.08},{"g":4,"x":60,"y":60,"v":0.13},{"g":4,"x":65,"y":60,"v":0.16},
{"g":4,"x":0,"y":65,"v":0.16},{"g":4,"x":5,"y":65,"v":0.07},{"g":4,"x":10,"y":65,"v":0.08},{"g":4,"x":15,"y":65,"v":0.13},{"g":4,"x":20,"y":65,"v":0.08},{"g":4,"x":25,"y":65,"v":0.10},{"g":4,"x":30,"y":65,"v":0.14},{"g":4,"x":35,"y":65,"v":0.18},{"g":4,"x":40,"y":65,"v":0.14},{"g":4,"x":45,"y":65,"v":0.12},{"g":4,"x":50,"y":65,"v":0.13},{"g":4,"x":55,"y":65,"v":0.12},{"g":4,"x":60,"y":65,"v":0.15},{"g":4,"x":65,"y":65,"v":0.18}
],
"c":[
{"g":1,"x":20,"y":2,"v":0.58},{"g":1,"x":21,"y":2,"v":0.5},{"g":1,"x":16,"y":2,"v":0.33},{"g":1,"x":17,"y":2,"v":0.33},{"g":1,"x":6,"y":2,"v":0.3},{"g":1,"x":26,"y":2,"v":0.45},{"g":1,"x":29,"y":2,"v":0.32},{"g":1,"x":33,"y":2,"v":0.37},{"g":1,"x":34,"y":2,"v":0.37},{"g":1,"x":46,"y":2,"v":0.3},{"g":1,"x":58,"y":2,"v":0.35},{"g":1,"x":64,"y":2,"v":0.33},{"g":1,"x":66,"y":2,"v":0.33},{"g":1,"x":54,"y":0,"v":-0.15},{"g":1,"x":13,"y":4,"v":0.33},{"g":1,"x":20,"y":0,"v":0.3},{"g":1,"x":27,"y":3,"v":0.33},{"g":1,"x":43,"y":3,"v":0.3},{"g":1,"x":2,"y":6,"v":0.28},{"g":1,"x":20,"y":6,"v":0.28},{"g":1,"x":26,"y":6,"v":0.28},{"g":1,"x":15,"y":6,"v":-0.12},{"g":1,"x":9,"y":7,"v":0.35},{"g":1,"x":28,"y":7,"v":0.5},{"g":1,"x":7,"y":9,"v":0.35},{"g":1,"x":7,"y":10,"v":-0.05},{"g":1,"x":32,"y":13,"v":0.37},{"g":1,"x":4,"y":13,"v":0.35},{"g":1,"x":15,"y":14,"v":-0.2},{"g":1,"x":14,"y":15,"v":-0.2},{"g":1,"x":17,"y":15,"v":-0.2},{"g":1,"x":15,"y":17,"v":-0.2},{"g":1,"x":63,"y":14,"v":-0.17},{"g":1,"x":44,"y":15,"v":-0.15},{"g":1,"x":54,"y":14,"v":-0.1},{"g":1,"x":51,"y":15,"v":0.3},{"g":1,"x":2,"y":16,"v":0.37},{"g":1,"x":2,"y":17,"v":0.3},{"g":1,"x":20,"y":16,"v":0.35},{"g":1,"x":20,"y":17,"v":0.3},{"g":1,"x":63,"y":18,"v":0.33},{"g":1,"x":2,"y":20,"v":0.6},{"g":1,"x":2,"y":21,"v":0.5},{"g":1,"x":16,"y":20,"v":0.33},{"g":1,"x":17,"y":20,"v":0.33},{"g":1,"x":26,"y":20,"v":0.55},{"g":1,"x":29,"y":20,"v":0.35},{"g":1,"x":33,"y":20,"v":0.4},{"g":1,"x":34,"y":20,"v":0.37},{"g":1,"x":64,"y":20,"v":0.35},{"g":1,"x":66,"y":20,"v":0.42},{"g":1,"x":58,"y":20,"v":0.3},{"g":1,"x":22,"y":21,"v":0.35},{"g":1,"x":21,"y":22,"v":0.35},{"g":1,"x":29,"y":22,"v":0.33},{"g":1,"x":35,"y":21,"v":0.33},{"g":1,"x":2,"y":26,"v":0.45},{"g":1,"x":20,"y":26,"v":0.52},{"g":1,"x":55,"y":26,"v":0.55},{"g":1,"x":51,"y":26,"v":0.4},{"g":1,"x":29,"y":26,"v":0.33},{"g":1,"x":33,"y":26,"v":0.33},{"g":1,"x":34,"y":26,"v":0.33},{"g":1,"x":64,"y":26,"v":0.33},{"g":1,"x":66,"y":26,"v":0.33},{"g":1,"x":3,"y":27,"v":0.33},{"g":1,"x":43,"y":27,"v":0.3},{"g":1,"x":7,"y":28,"v":0.5},{"g":1,"x":20,"y":29,"v":0.35},{"g":1,"x":22,"y":29,"v":0.35},{"g":1,"x":26,"y":29,"v":0.35},{"g":1,"x":34,"y":29,"v":0.35},{"g":1,"x":2,"y":29,"v":0.33},{"g":1,"x":49,"y":29,"v":-0.1},{"g":1,"x":49,"y":31,"v":-0.18},{"g":1,"x":32,"y":31,"v":0.33},{"g":1,"x":31,"y":32,"v":0.33},{"g":1,"x":13,"y":32,"v":0.35},{"g":1,"x":4,"y":32,"v":0.28},{"g":1,"x":2,"y":33,"v":0.4},{"g":1,"x":2,"y":34,"v":0.37},{"g":1,"x":20,"y":33,"v":0.45},{"g":1,"x":20,"y":34,"v":0.4},{"g":1,"x":26,"y":34,"v":0.35},{"g":1,"x":29,"y":34,"v":0.33},{"g":1,"x":51,"y":34,"v":0.37},{"g":1,"x":21,"y":35,"v":0.35},{"g":1,"x":60,"y":36,"v":0.6},{"g":1,"x":39,"y":38,"v":0.33},{"g":1,"x":38,"y":39,"v":0.33},{"g":1,"x":41,"y":39,"v":0.33},{"g":1,"x":39,"y":41,"v":0.35},{"g":1,"x":63,"y":38,"v":0.35},{"g":1,"x":49,"y":38,"v":-0.15},{"g":1,"x":49,"y":42,"v":-0.17},{"g":1,"x":15,"y":44,"v":-0.13},{"g":1,"x":3,"y":43,"v":0.3},{"g":1,"x":27,"y":43,"v":0.3},{"g":1,"x":31,"y":49,"v":-0.2},{"g":1,"x":29,"y":49,"v":-0.15},{"g":1,"x":38,"y":49,"v":-0.17},{"g":1,"x":42,"y":49,"v":-0.17},{"g":1,"x":53,"y":49,"v":-0.18},{"g":1,"x":62,"y":48,"v":0.5},{"g":1,"x":56,"y":47,"v":0.35},{"g":1,"x":50,"y":47,"v":0.33},{"g":1,"x":15,"y":51,"v":0.33},{"g":1,"x":26,"y":51,"v":0.37},{"g":1,"x":34,"y":51,"v":0.33},{"g":1,"x":54,"y":51,"v":-0.17},{"g":1,"x":49,"y":53,"v":-0.17},{"g":1,"x":0,"y":54,"v":-0.15},{"g":1,"x":51,"y":54,"v":-0.17},{"g":1,"x":26,"y":55,"v":0.55},{"g":1,"x":47,"y":56,"v":0.33},{"g":1,"x":2,"y":58,"v":0.35},{"g":1,"x":20,"y":58,"v":0.33},{"g":1,"x":21,"y":58,"v":0.33},{"g":1,"x":36,"y":60,"v":0.58},{"g":1,"x":66,"y":60,"v":-0.18},{"g":1,"x":37,"y":61,"v":0.3},{"g":1,"x":48,"y":62,"v":0.5},{"g":1,"x":65,"y":62,"v":0.33},{"g":1,"x":14,"y":63,"v":-0.17},{"g":1,"x":18,"y":63,"v":0.33},{"g":1,"x":38,"y":63,"v":0.35},{"g":1,"x":2,"y":64,"v":0.33},{"g":1,"x":20,"y":64,"v":0.37},{"g":1,"x":26,"y":64,"v":0.33},{"g":1,"x":2,"y":66,"v":0.35},{"g":1,"x":20,"y":66,"v":0.45},{"g":1,"x":26,"y":66,"v":0.35},{"g":1,"x":60,"y":66,"v":-0.17},{"g":1,"x":54,"y":64,"v":-0.13},
{"g":2,"x":31,"y":0,"v":0.33},{"g":2,"x":7,"y":1,"v":-0.18},{"g":2,"x":9,"y":1,"v":-0.18},{"g":2,"x":4,"y":2,"v":-0.18},{"g":2,"x":7,"y":2,"v":-0.18},{"g":2,"x":9,"y":2,"v":-0.18},{"g":2,"x":11,"y":2,"v":-0.18},{"g":2,"x":28,"y":2,"v":-0.17},{"g":2,"x":5,"y":3,"v":0.55},{"g":2,"x":8,"y":3,"v":0.45},{"g":2,"x":19,"y":3,"v":0.55},{"g":2,"x":23,"y":3,"v":0.35},{"g":2,"x":27,"y":3,"v":0.42},{"g":2,"x":32,"y":3,"v":-0.18},{"g":2,"x":36,"y":3,"v":-0.18},{"g":2,"x":1,"y":4,"v":-0.18},{"g":2,"x":2,"y":4,"v":-0.18},{"g":2,"x":7,"y":4,"v":0.58},{"g":2,"x":8,"y":4,"v":0.35},{"g":2,"x":9,"y":4,"v":0.5},{"g":2,"x":11,"y":4,"v":0.52},{"g":2,"x":17,"y":4,"v":-0.18},{"g":2,"x":28,"y":4,"v":0.45},{"g":2,"x":30,"y":4,"v":-0.18},{"g":2,"x":36,"y":4,"v":-0.18},{"g":2,"x":37,"y":4,"v":-0.18},{"g":2,"x":54,"y":4,"v":-0.18},{"g":2,"x":58,"y":4,"v":-0.18},{"g":2,"x":64,"y":4,"v":-0.18},{"g":2,"x":65,"y":4,"v":-0.18},{"g":2,"x":66,"y":4,"v":-0.18},{"g":2,"x":3,"y":5,"v":0.55},{"g":2,"x":8,"y":5,"v":0.35},{"g":2,"x":19,"y":5,"v":0.5},{"g":2,"x":27,"y":5,"v":0.38},{"g":2,"x":32,"y":5,"v":-0.18},{"g":2,"x":33,"y":5,"v":0.3},{"g":2,"x":36,"y":5,"v":-0.18},{"g":2,"x":58,"y":5,"v":-0.18},{"g":2,"x":64,"y":5,"v":-0.18},{"g":2,"x":1,"y":7,"v":-0.18},{"g":2,"x":2,"y":7,"v":-0.18},{"g":2,"x":4,"y":7,"v":0.58},{"g":2,"x":9,"y":7,"v":0.58},{"g":2,"x":11,"y":7,"v":0.58},{"g":2,"x":12,"y":7,"v":-0.18},{"g":2,"x":13,"y":7,"v":-0.18},{"g":2,"x":17,"y":7,"v":-0.18},{"g":2,"x":28,"y":7,"v":0.55},{"g":2,"x":30,"y":7,"v":-0.18},{"g":2,"x":31,"y":7,"v":-0.18},{"g":2,"x":35,"y":7,"v":-0.18},{"g":2,"x":36,"y":7,"v":-0.18},{"g":2,"x":40,"y":7,"v":-0.15},{"g":2,"x":54,"y":7,"v":-0.18},{"g":2,"x":58,"y":7,"v":-0.18},{"g":2,"x":64,"y":7,"v":-0.18},{"g":2,"x":65,"y":7,"v":-0.18},{"g":2,"x":66,"y":7,"v":-0.18},{"g":2,"x":3,"y":8,"v":0.42},{"g":2,"x":4,"y":8,"v":0.3},{"g":2,"x":5,"y":8,"v":0.35},{"g":2,"x":19,"y":8,"v":0.5},{"g":2,"x":23,"y":8,"v":0.3},{"g":2,"x":1,"y":9,"v":-0.18},{"g":2,"x":2,"y":9,"v":-0.18},{"g":2,"x":4,"y":9,"v":0.5},{"g":2,"x":6,"y":9,"v":0.3},{"g":2,"x":7,"y":9,"v":0.55},{"g":2,"x":11,"y":9,"v":0.55},{"g":2,"x":12,"y":9,"v":-0.18},{"g":2,"x":13,"y":9,"v":-0.18},{"g":2,"x":17,"y":9,"v":-0.18},{"g":2,"x":28,"y":9,"v":0.48},{"g":2,"x":30,"y":9,"v":-0.18},{"g":2,"x":31,"y":9,"v":-0.18},{"g":2,"x":54,"y":9,"v":-0.18},{"g":2,"x":58,"y":9,"v":-0.18},{"g":2,"x":64,"y":9,"v":-0.18},{"g":2,"x":65,"y":9,"v":-0.18},{"g":2,"x":66,"y":9,"v":-0.18},{"g":2,"x":26,"y":10,"v":0.42},{"g":2,"x":1,"y":11,"v":-0.18},{"g":2,"x":2,"y":11,"v":-0.18},{"g":2,"x":4,"y":11,"v":0.5},{"g":2,"x":7,"y":11,"v":0.58},{"g":2,"x":9,"y":11,"v":0.58},{"g":2,"x":13,"y":11,"v":-0.18},{"g":2,"x":17,"y":11,"v":-0.18},{"g":2,"x":28,"y":11,"v":0.45},{"g":2,"x":30,"y":11,"v":-0.18},{"g":2,"x":35,"y":11,"v":-0.18},{"g":2,"x":36,"y":11,"v":-0.18},{"g":2,"x":54,"y":11,"v":-0.18},{"g":2,"x":58,"y":11,"v":-0.18},{"g":2,"x":64,"y":11,"v":-0.18},{"g":2,"x":65,"y":11,"v":-0.18},{"g":2,"x":66,"y":11,"v":-0.18},{"g":2,"x":7,"y":13,"v":-0.18},{"g":2,"x":9,"y":13,"v":-0.18},{"g":2,"x":11,"y":13,"v":-0.18},{"g":2,"x":4,"y":17,"v":-0.18},{"g":2,"x":7,"y":17,"v":-0.18},{"g":2,"x":9,"y":17,"v":-0.18},{"g":2,"x":11,"y":17,"v":-0.18},{"g":2,"x":28,"y":17,"v":-0.18},{"g":2,"x":30,"y":17,"v":0.33},{"g":2,"x":34,"y":17,"v":0.38},{"g":2,"x":35,"y":17,"v":0.38},{"g":2,"x":54,"y":17,"v":0.42},{"g":2,"x":58,"y":17,"v":0.35},{"g":2,"x":63,"y":17,"v":0.38},{"g":2,"x":65,"y":17,"v":0.37},{"g":2,"x":66,"y":17,"v":0.38},{"g":2,"x":39,"y":18,"v":-0.18},{"g":2,"x":3,"y":19,"v":0.55},{"g":2,"x":5,"y":19,"v":0.5},{"g":2,"x":8,"y":19,"v":0.5},{"g":2,"x":23,"y":19,"v":0.37},{"g":2,"x":32,"y":19,"v":-0.18},{"g":2,"x":54,"y":19,"v":-0.18},{"g":2,"x":58,"y":19,"v":-0.18},{"g":2,"x":64,"y":19,"v":-0.18},{"g":2,"x":31,"y":20,"v":0.33},{"g":2,"x":33,"y":20,"v":0.37},{"g":2,"x":49,"y":21,"v":0.58},{"g":2,"x":3,"y":23,"v":0.35},{"g":2,"x":8,"y":23,"v":0.35},{"g":2,"x":19,"y":23,"v":0.4},{"g":2,"x":37,"y":23,"v":0.37},{"g":2,"x":55,"y":23,"v":0.52},{"g":2,"x":39,"y":25,"v":-0.18},{"g":2,"x":10,"y":26,"v":0.42},{"g":2,"x":3,"y":27,"v":0.4},{"g":2,"x":5,"y":27,"v":0.37},{"g":2,"x":29,"y":27,"v":0.45},{"g":2,"x":1,"y":28,"v":-0.15},{"g":2,"x":2,"y":28,"v":-0.15},{"g":2,"x":4,"y":28,"v":0.45},{"g":2,"x":7,"y":28,"v":0.58},{"g":2,"x":9,"y":28,"v":0.5},{"g":2,"x":11,"y":28,"v":0.48},{"g":2,"x":17,"y":28,"v":-0.18},{"g":2,"x":30,"y":28,"v":-0.18},{"g":2,"x":35,"y":28,"v":-0.18},{"g":2,"x":36,"y":28,"v":-0.18},{"g":2,"x":54,"y":28,"v":-0.18},{"g":2,"x":58,"y":28,"v":-0.18},{"g":2,"x":64,"y":28,"v":-0.18},{"g":2,"x":65,"y":28,"v":-0.18},{"g":2,"x":66,"y":28,"v":-0.18},{"g":2,"x":27,"y":29,"v":0.45},{"g":2,"x":4,"y":30,"v":-0.18},{"g":2,"x":7,"y":30,"v":-0.18},{"g":2,"x":9,"y":30,"v":-0.18},{"g":2,"x":11,"y":30,"v":-0.18},{"g":2,"x":17,"y":30,"v":0.35},{"g":2,"x":28,"y":30,"v":-0.15},{"g":2,"x":43,"y":30,"v":-0.18},{"g":2,"x":45,"y":30,"v":-0.18},{"g":2,"x":15,"y":31,"v":-0.17},{"g":2,"x":17,"y":31,"v":0.3},{"g":2,"x":39,"y":31,"v":-0.18},{"g":2,"x":41,"y":31,"v":-0.18},{"g":2,"x":3,"y":32,"v":-0.18},{"g":2,"x":5,"y":32,"v":-0.18},{"g":2,"x":19,"y":32,"v":-0.18},{"g":2,"x":5,"y":33,"v":0.3},{"g":2,"x":20,"y":33,"v":0.37},{"g":2,"x":17,"y":34,"v":0.37},{"g":2,"x":43,"y":34,"v":0.37},{"g":2,"x":62,"y":34,"v":0.55},{"g":2,"x":4,"y":35,"v":-0.18},{"g":2,"x":7,"y":35,"v":-0.18},{"g":2,"x":9,"y":35,"v":-0.18},{"g":2,"x":11,"y":35,"v":-0.18},{"g":2,"x":17,"y":35,"v":0.37},{"g":2,"x":28,"y":35,"v":-0.18},{"g":2,"x":66,"y":35,"v":0.38},{"g":2,"x":3,"y":36,"v":-0.18},{"g":2,"x":4,"y":36,"v":-0.18},{"g":2,"x":5,"y":36,"v":-0.18},{"g":2,"x":7,"y":36,"v":-0.18},{"g":2,"x":9,"y":36,"v":-0.18},{"g":2,"x":11,"y":36,"v":-0.18},{"g":2,"x":19,"y":36,"v":-0.18},{"g":2,"x":28,"y":36,"v":-0.18},{"g":2,"x":23,"y":37,"v":0.35},{"g":2,"x":55,"y":37,"v":0.33},{"g":2,"x":43,"y":38,"v":0.53},{"g":2,"x":45,"y":38,"v":0.57},{"g":2,"x":48,"y":38,"v":0.58},{"g":2,"x":0,"y":39,"v":-0.18},{"g":2,"x":1,"y":39,"v":-0.18},{"g":2,"x":2,"y":39,"v":-0.18},{"g":2,"x":18,"y":39,"v":-0.18},{"g":2,"x":25,"y":39,"v":-0.18},{"g":2,"x":31,"y":39,"v":-0.18},{"g":2,"x":41,"y":39,"v":0.55},{"g":2,"x":54,"y":39,"v":0.5},{"g":2,"x":39,"y":41,"v":0.52},{"g":2,"x":47,"y":41,"v":0.55},{"g":2,"x":54,"y":41,"v":0.53},{"g":2,"x":67,"y":41,"v":0.37},{"g":2,"x":39,"y":42,"v":-0.15},{"g":2,"x":30,"y":43,"v":-0.18},{"g":2,"x":32,"y":43,"v":-0.18},{"g":2,"x":34,"y":43,"v":0.37},{"g":2,"x":38,"y":43,"v":0.52},{"g":2,"x":45,"y":43,"v":0.58},{"g":2,"x":48,"y":43,"v":0.55},{"g":2,"x":62,"y":43,"v":0.42},{"g":2,"x":46,"y":44,"v":0.55},{"g":2,"x":50,"y":44,"v":0.38},{"g":2,"x":51,"y":44,"v":0.42},{"g":2,"x":60,"y":44,"v":0.52},{"g":2,"x":30,"y":45,"v":-0.18},{"g":2,"x":32,"y":45,"v":-0.18},{"g":2,"x":38,"y":45,"v":0.55},{"g":2,"x":43,"y":45,"v":0.55},{"g":2,"x":48,"y":45,"v":0.55},{"g":2,"x":44,"y":46,"v":0.55},{"g":2,"x":50,"y":46,"v":0.35},{"g":2,"x":51,"y":46,"v":0.38},{"g":2,"x":60,"y":46,"v":0.52},{"g":2,"x":41,"y":47,"v":0.53},{"g":2,"x":67,"y":47,"v":0.55},{"g":2,"x":38,"y":48,"v":0.52},{"g":2,"x":43,"y":48,"v":0.52},{"g":2,"x":45,"y":48,"v":0.55},{"g":2,"x":30,"y":48,"v":-0.15},{"g":2,"x":32,"y":48,"v":-0.15},{"g":2,"x":21,"y":49,"v":0.55},{"g":2,"x":44,"y":50,"v":0.4},{"g":2,"x":46,"y":50,"v":0.35},{"g":2,"x":51,"y":50,"v":0.58},{"g":2,"x":60,"y":50,"v":0.42},{"g":2,"x":63,"y":50,"v":0.55},{"g":2,"x":44,"y":51,"v":0.42},{"g":2,"x":46,"y":51,"v":0.37},{"g":2,"x":50,"y":51,"v":0.58},{"g":2,"x":60,"y":51,"v":0.45},{"g":2,"x":56,"y":52,"v":0.52},{"g":2,"x":59,"y":52,"v":0.3},{"g":2,"x":39,"y":53,"v":0.52},{"g":2,"x":41,"y":53,"v":0.55},{"g":2,"x":2,"y":54,"v":0.3},{"g":2,"x":17,"y":54,"v":0.42},{"g":2,"x":19,"y":54,"v":-0.18},{"g":2,"x":28,"y":54,"v":-0.18},{"g":2,"x":35,"y":54,"v":0.33},{"g":2,"x":66,"y":54,"v":0.38},{"g":2,"x":23,"y":55,"v":0.52},{"g":2,"x":52,"y":56,"v":0.55},{"g":2,"x":42,"y":57,"v":0.3},{"g":2,"x":61,"y":57,"v":0.33},{"g":2,"x":3,"y":58,"v":-0.18},{"g":2,"x":4,"y":58,"v":-0.18},{"g":2,"x":5,"y":58,"v":-0.18},{"g":2,"x":7,"y":58,"v":-0.18},{"g":2,"x":9,"y":58,"v":-0.18},{"g":2,"x":11,"y":58,"v":-0.18},{"g":2,"x":17,"y":58,"v":0.37},{"g":2,"x":19,"y":58,"v":-0.18},{"g":2,"x":28,"y":58,"v":-0.18},{"g":2,"x":30,"y":58,"v":0.33},{"g":2,"x":54,"y":58,"v":0.37},{"g":2,"x":64,"y":58,"v":0.35},{"g":2,"x":65,"y":58,"v":0.35},{"g":2,"x":52,"y":59,"v":0.33},{"g":2,"x":64,"y":59,"v":-0.18},{"g":2,"x":44,"y":60,"v":0.58},{"g":2,"x":46,"y":60,"v":0.58},{"g":2,"x":50,"y":60,"v":0.4},{"g":2,"x":51,"y":60,"v":0.42},{"g":2,"x":54,"y":60,"v":0.33},{"g":2,"x":57,"y":61,"v":0.33},{"g":2,"x":17,"y":62,"v":0.37},{"g":2,"x":32,"y":62,"v":-0.15},{"g":2,"x":34,"y":62,"v":0.55},{"g":2,"x":35,"y":62,"v":0.3},{"g":2,"x":43,"y":62,"v":0.4},{"g":2,"x":66,"y":62,"v":0.35},{"g":2,"x":50,"y":63,"v":0.52},{"g":2,"x":3,"y":64,"v":-0.18},{"g":2,"x":4,"y":64,"v":-0.18},{"g":2,"x":5,"y":64,"v":-0.18},{"g":2,"x":7,"y":64,"v":-0.18},{"g":2,"x":8,"y":64,"v":-0.18},{"g":2,"x":9,"y":64,"v":-0.18},{"g":2,"x":11,"y":64,"v":-0.18},{"g":2,"x":19,"y":64,"v":-0.18},{"g":2,"x":27,"y":64,"v":-0.18},{"g":2,"x":28,"y":64,"v":-0.18},{"g":2,"x":30,"y":64,"v":0.35},{"g":2,"x":32,"y":64,"v":0.3},{"g":2,"x":59,"y":64,"v":0.33},{"g":2,"x":58,"y":64,"v":-0.18},{"g":2,"x":4,"y":65,"v":-0.18},{"g":2,"x":7,"y":65,"v":-0.18},{"g":2,"x":8,"y":65,"v":-0.18},{"g":2,"x":9,"y":65,"v":-0.18},{"g":2,"x":11,"y":65,"v":-0.18},{"g":2,"x":17,"y":65,"v":0.33},{"g":2,"x":28,"y":65,"v":-0.18},{"g":2,"x":65,"y":65,"v":0.33},{"g":2,"x":4,"y":66,"v":-0.18},{"g":2,"x":7,"y":66,"v":-0.18},{"g":2,"x":9,"y":66,"v":-0.18},{"g":2,"x":11,"y":66,"v":-0.18},{"g":2,"x":17,"y":66,"v":0.37},{"g":2,"x":28,"y":66,"v":-0.18},{"g":2,"x":30,"y":66,"v":0.33},{"g":2,"x":35,"y":66,"v":0.38},{"g":2,"x":54,"y":66,"v":0.37},{"g":2,"x":63,"y":66,"v":0.37},{"g":2,"x":41,"y":67,"v":0.35},{"g":2,"x":47,"y":67,"v":0.55},
{"g":3,"x":2,"y":1,"v":0.55},{"g":3,"x":1,"y":2,"v":0.55},{"g":3,"x":15,"y":2,"v":0.35},{"g":3,"x":22,"y":2,"v":0.43},{"g":3,"x":6,"y":3,"v":0.37},{"g":3,"x":9,"y":3,"v":0.42},{"g":3,"x":11,"y":3,"v":0.47},{"g":3,"x":21,"y":3,"v":0.42},{"g":3,"x":57,"y":3,"v":0.43},{"g":3,"x":9,"y":4,"v":0.38},{"g":3,"x":11,"y":4,"v":0.52},{"g":3,"x":13,"y":4,"v":0.35},{"g":3,"x":14,"y":4,"v":0.5},{"g":3,"x":17,"y":4,"v":-0.18},{"g":3,"x":28,"y":4,"v":0.42},{"g":3,"x":30,"y":4,"v":-0.18},{"g":3,"x":32,"y":4,"v":-0.18},{"g":3,"x":58,"y":4,"v":-0.18},{"g":3,"x":64,"y":4,"v":-0.18},{"g":3,"x":65,"y":4,"v":-0.18},{"g":3,"x":7,"y":5,"v":0.3},{"g":3,"x":9,"y":5,"v":0.37},{"g":3,"x":11,"y":5,"v":0.33},{"g":3,"x":14,"y":5,"v":0.42},{"g":3,"x":19,"y":5,"v":0.55},{"g":3,"x":27,"y":5,"v":0.42},{"g":3,"x":30,"y":5,"v":-0.18},{"g":3,"x":55,"y":5,"v":-0.18},{"g":3,"x":58,"y":5,"v":-0.18},{"g":3,"x":64,"y":5,"v":-0.15},{"g":3,"x":3,"y":6,"v":0.38},{"g":3,"x":21,"y":6,"v":0.42},{"g":3,"x":27,"y":6,"v":0.5},{"g":3,"x":57,"y":6,"v":0.37},{"g":3,"x":3,"y":9,"v":0.4},{"g":3,"x":4,"y":9,"v":0.4},{"g":3,"x":5,"y":9,"v":0.4},{"g":3,"x":11,"y":9,"v":0.58},{"g":3,"x":14,"y":9,"v":0.52},{"g":3,"x":17,"y":9,"v":-0.18},{"g":3,"x":18,"y":9,"v":-0.18},{"g":3,"x":28,"y":9,"v":0.3},{"g":3,"x":29,"y":9,"v":0.37},{"g":3,"x":30,"y":9,"v":-0.18},{"g":3,"x":31,"y":9,"v":-0.18},{"g":3,"x":32,"y":9,"v":-0.18},{"g":3,"x":54,"y":9,"v":-0.18},{"g":3,"x":58,"y":9,"v":-0.18},{"g":3,"x":64,"y":9,"v":-0.18},{"g":3,"x":65,"y":9,"v":-0.18},{"g":3,"x":46,"y":10,"v":0.33},{"g":3,"x":47,"y":10,"v":0.58},{"g":3,"x":3,"y":11,"v":0.4},{"g":3,"x":4,"y":11,"v":0.5},{"g":3,"x":5,"y":11,"v":0.4},{"g":3,"x":9,"y":11,"v":0.58},{"g":3,"x":13,"y":11,"v":0.37},{"g":3,"x":14,"y":11,"v":0.47},{"g":3,"x":19,"y":11,"v":0.33},{"g":3,"x":27,"y":11,"v":0.33},{"g":3,"x":28,"y":11,"v":0.42},{"g":3,"x":30,"y":11,"v":-0.18},{"g":3,"x":31,"y":11,"v":-0.18},{"g":3,"x":32,"y":11,"v":-0.18},{"g":3,"x":54,"y":11,"v":-0.18},{"g":3,"x":64,"y":11,"v":-0.18},{"g":3,"x":65,"y":11,"v":-0.18},{"g":3,"x":33,"y":12,"v":0.35},{"g":3,"x":4,"y":13,"v":0.33},{"g":3,"x":11,"y":13,"v":0.4},{"g":3,"x":17,"y":13,"v":-0.18},{"g":3,"x":28,"y":13,"v":0.3},{"g":3,"x":4,"y":14,"v":0.48},{"g":3,"x":5,"y":14,"v":0.42},{"g":3,"x":9,"y":14,"v":0.53},{"g":3,"x":11,"y":14,"v":0.47},{"g":3,"x":17,"y":14,"v":-0.18},{"g":3,"x":28,"y":14,"v":0.43},{"g":3,"x":32,"y":14,"v":-0.18},{"g":3,"x":64,"y":14,"v":-0.18},{"g":3,"x":65,"y":14,"v":-0.18},{"g":3,"x":1,"y":15,"v":0.38},{"g":3,"x":2,"y":15,"v":0.38},{"g":3,"x":4,"y":17,"v":-0.18},{"g":3,"x":9,"y":17,"v":-0.18},{"g":3,"x":11,"y":17,"v":-0.18},{"g":3,"x":13,"y":17,"v":-0.18},{"g":3,"x":14,"y":17,"v":-0.18},{"g":3,"x":30,"y":17,"v":0.37},{"g":3,"x":31,"y":17,"v":0.37},{"g":3,"x":32,"y":17,"v":0.37},{"g":3,"x":36,"y":17,"v":0.33},{"g":3,"x":37,"y":17,"v":0.33},{"g":3,"x":41,"y":17,"v":-0.18},{"g":3,"x":43,"y":17,"v":-0.18},{"g":3,"x":50,"y":17,"v":0.38},{"g":3,"x":51,"y":17,"v":0.42},{"g":3,"x":55,"y":17,"v":0.4},{"g":3,"x":58,"y":17,"v":0.4},{"g":3,"x":62,"y":17,"v":0.33},{"g":3,"x":63,"y":17,"v":0.33},{"g":3,"x":64,"y":17,"v":0.4},{"g":3,"x":30,"y":18,"v":0.45},{"g":3,"x":36,"y":18,"v":0.33},{"g":3,"x":50,"y":18,"v":0.4},{"g":3,"x":51,"y":18,"v":0.42},{"g":3,"x":55,"y":18,"v":0.42},{"g":3,"x":58,"y":18,"v":0.42},{"g":3,"x":60,"y":18,"v":0.42},{"g":3,"x":62,"y":18,"v":0.42},{"g":3,"x":63,"y":18,"v":0.42},{"g":3,"x":64,"y":18,"v":0.42},{"g":3,"x":65,"y":18,"v":0.42},{"g":3,"x":5,"y":19,"v":0.55},{"g":3,"x":9,"y":19,"v":0.33},{"g":3,"x":11,"y":19,"v":0.33},{"g":3,"x":14,"y":19,"v":0.33},{"g":3,"x":27,"y":19,"v":0.48},{"g":3,"x":30,"y":19,"v":-0.18},{"g":3,"x":9,"y":20,"v":-0.18},{"g":3,"x":11,"y":20,"v":-0.18},{"g":3,"x":22,"y":20,"v":0.38},{"g":3,"x":49,"y":20,"v":0.42},{"g":3,"x":3,"y":21,"v":0.42},{"g":3,"x":6,"y":21,"v":0.42},{"g":3,"x":24,"y":21,"v":0.33},{"g":3,"x":26,"y":21,"v":0.42},{"g":3,"x":1,"y":22,"v":0.42},{"g":3,"x":2,"y":22,"v":0.42},{"g":3,"x":15,"y":22,"v":0.33},{"g":3,"x":20,"y":22,"v":0.4},{"g":3,"x":26,"y":22,"v":0.4},{"g":3,"x":49,"y":22,"v":0.55},{"g":3,"x":19,"y":23,"v":0.33},{"g":3,"x":29,"y":23,"v":0.37},{"g":3,"x":31,"y":23,"v":-0.18},{"g":3,"x":32,"y":23,"v":-0.18},{"g":3,"x":21,"y":24,"v":0.38},{"g":3,"x":39,"y":25,"v":-0.18},{"g":3,"x":41,"y":25,"v":-0.15},{"g":3,"x":43,"y":25,"v":-0.15},{"g":3,"x":46,"y":25,"v":0.33},{"g":3,"x":49,"y":25,"v":0.33},{"g":3,"x":20,"y":26,"v":0.35},{"g":3,"x":21,"y":26,"v":0.35},{"g":3,"x":22,"y":26,"v":0.42},{"g":3,"x":49,"y":26,"v":0.42},{"g":3,"x":5,"y":27,"v":0.42},{"g":3,"x":6,"y":27,"v":0.5},{"g":3,"x":19,"y":27,"v":0.4},{"g":3,"x":4,"y":28,"v":0.42},{"g":3,"x":9,"y":28,"v":0.37},{"g":3,"x":11,"y":28,"v":0.42},{"g":3,"x":13,"y":28,"v":0.33},{"g":3,"x":14,"y":28,"v":0.42},{"g":3,"x":32,"y":28,"v":-0.18},{"g":3,"x":23,"y":29,"v":0.37},{"g":3,"x":4,"y":30,"v":-0.18},{"g":3,"x":5,"y":30,"v":-0.18},{"g":3,"x":9,"y":30,"v":-0.18},{"g":3,"x":11,"y":30,"v":-0.18},{"g":3,"x":13,"y":30,"v":-0.18},{"g":3,"x":16,"y":30,"v":0.4},{"g":3,"x":17,"y":30,"v":0.4},{"g":3,"x":19,"y":30,"v":-0.18},{"g":3,"x":31,"y":30,"v":0.4},{"g":3,"x":32,"y":30,"v":0.4},{"g":3,"x":36,"y":30,"v":0.42},{"g":3,"x":37,"y":30,"v":0.42},{"g":3,"x":50,"y":30,"v":0.48},{"g":3,"x":51,"y":30,"v":0.48},{"g":3,"x":55,"y":30,"v":0.47},{"g":3,"x":56,"y":30,"v":0.47},{"g":3,"x":57,"y":30,"v":0.47},{"g":3,"x":58,"y":30,"v":0.58},{"g":3,"x":60,"y":30,"v":0.5},{"g":3,"x":62,"y":30,"v":0.45},{"g":3,"x":63,"y":30,"v":0.45},{"g":3,"x":64,"y":30,"v":0.5},{"g":3,"x":65,"y":30,"v":0.5},{"g":3,"x":9,"y":31,"v":-0.18},{"g":3,"x":11,"y":31,"v":-0.18},{"g":3,"x":13,"y":31,"v":-0.18},{"g":3,"x":14,"y":31,"v":-0.18},{"g":3,"x":23,"y":31,"v":-0.18},{"g":3,"x":30,"y":31,"v":0.45},{"g":3,"x":51,"y":31,"v":0.45},{"g":3,"x":4,"y":32,"v":-0.18},{"g":3,"x":9,"y":32,"v":-0.18},{"g":3,"x":11,"y":32,"v":-0.18},{"g":3,"x":13,"y":32,"v":-0.18},{"g":3,"x":14,"y":32,"v":-0.18},{"g":3,"x":16,"y":32,"v":0.37},{"g":3,"x":17,"y":32,"v":0.37},{"g":3,"x":23,"y":32,"v":-0.18},{"g":3,"x":28,"y":32,"v":-0.18},{"g":3,"x":29,"y":32,"v":-0.18},{"g":3,"x":30,"y":32,"v":0.35},{"g":3,"x":51,"y":32,"v":0.4},{"g":3,"x":49,"y":32,"v":-0.18},{"g":3,"x":56,"y":32,"v":-0.18},{"g":3,"x":12,"y":33,"v":0.35},{"g":3,"x":43,"y":35,"v":0.37},{"g":3,"x":66,"y":35,"v":0.37},{"g":3,"x":15,"y":36,"v":0.37},{"g":3,"x":16,"y":36,"v":0.37},{"g":3,"x":17,"y":36,"v":0.37},{"g":3,"x":30,"y":36,"v":0.42},{"g":3,"x":50,"y":36,"v":0.42},{"g":3,"x":51,"y":36,"v":0.37},{"g":3,"x":55,"y":36,"v":0.43},{"g":3,"x":58,"y":36,"v":0.38},{"g":3,"x":60,"y":36,"v":0.43},{"g":3,"x":63,"y":36,"v":0.42},{"g":3,"x":64,"y":36,"v":0.42},{"g":3,"x":30,"y":37,"v":0.42},{"g":3,"x":45,"y":37,"v":0.58},{"g":3,"x":61,"y":37,"v":0.42},{"g":3,"x":41,"y":38,"v":0.58},{"g":3,"x":43,"y":38,"v":0.58},{"g":3,"x":48,"y":38,"v":0.58},{"g":3,"x":51,"y":38,"v":0.38},{"g":3,"x":64,"y":39,"v":-0.18},{"g":3,"x":32,"y":39,"v":-0.18},{"g":3,"x":47,"y":40,"v":0.58},{"g":3,"x":30,"y":40,"v":0.35},{"g":3,"x":61,"y":40,"v":0.45},{"g":3,"x":51,"y":40,"v":0.35},{"g":3,"x":38,"y":41,"v":0.58},{"g":3,"x":43,"y":41,"v":0.55},{"g":3,"x":48,"y":41,"v":0.58},{"g":3,"x":17,"y":41,"v":-0.18},{"g":3,"x":52,"y":42,"v":0.37},{"g":3,"x":57,"y":42,"v":0.37},{"g":3,"x":17,"y":43,"v":-0.18},{"g":3,"x":34,"y":43,"v":0.33},{"g":3,"x":38,"y":43,"v":0.58},{"g":3,"x":41,"y":43,"v":0.58},{"g":3,"x":48,"y":43,"v":0.58},{"g":3,"x":59,"y":44,"v":0.5},{"g":3,"x":37,"y":45,"v":0.55},{"g":3,"x":61,"y":45,"v":0.42},{"g":3,"x":10,"y":46,"v":0.58},{"g":3,"x":40,"y":47,"v":0.55},{"g":3,"x":38,"y":48,"v":0.55},{"g":3,"x":41,"y":48,"v":0.55},{"g":3,"x":43,"y":48,"v":0.55},{"g":3,"x":51,"y":48,"v":0.35},{"g":3,"x":20,"y":49,"v":0.45},{"g":3,"x":22,"y":49,"v":0.55},{"g":3,"x":26,"y":49,"v":0.45},{"g":3,"x":32,"y":49,"v":-0.18},{"g":3,"x":50,"y":49,"v":0.38},{"g":3,"x":60,"y":49,"v":0.45},{"g":3,"x":30,"y":50,"v":0.47},{"g":3,"x":31,"y":50,"v":0.47},{"g":3,"x":35,"y":50,"v":0.42},{"g":3,"x":36,"y":50,"v":0.42},{"g":3,"x":51,"y":50,"v":0.4},{"g":3,"x":55,"y":50,"v":0.58},{"g":3,"x":60,"y":50,"v":0.55},{"g":3,"x":63,"y":50,"v":0.52},{"g":3,"x":16,"y":51,"v":0.42},{"g":3,"x":17,"y":51,"v":0.42},{"g":3,"x":30,"y":51,"v":0.5},{"g":3,"x":31,"y":51,"v":0.45},{"g":3,"x":32,"y":51,"v":0.45},{"g":3,"x":38,"y":51,"v":0.42},{"g":3,"x":40,"y":51,"v":0.42},{"g":3,"x":48,"y":51,"v":0.37},{"g":3,"x":49,"y":51,"v":0.37},{"g":3,"x":55,"y":51,"v":0.37},{"g":3,"x":62,"y":51,"v":0.42},{"g":3,"x":63,"y":51,"v":0.42},{"g":3,"x":64,"y":51,"v":0.42},{"g":3,"x":65,"y":51,"v":0.42},{"g":3,"x":42,"y":53,"v":0.42},{"g":3,"x":57,"y":53,"v":0.42},{"g":3,"x":30,"y":54,"v":0.48},{"g":3,"x":31,"y":54,"v":0.4},{"g":3,"x":35,"y":54,"v":0.45},{"g":3,"x":36,"y":54,"v":0.45},{"g":3,"x":50,"y":54,"v":0.45},{"g":3,"x":51,"y":54,"v":0.58},{"g":3,"x":55,"y":54,"v":0.42},{"g":3,"x":56,"y":54,"v":0.42},{"g":3,"x":58,"y":54,"v":0.47},{"g":3,"x":60,"y":54,"v":0.55},{"g":3,"x":63,"y":54,"v":0.55},{"g":3,"x":65,"y":54,"v":0.42},{"g":3,"x":30,"y":56,"v":0.45},{"g":3,"x":32,"y":56,"v":-0.18},{"g":3,"x":36,"y":56,"v":0.42},{"g":3,"x":58,"y":56,"v":0.42},{"g":3,"x":67,"y":56,"v":0.48},{"g":3,"x":3,"y":57,"v":0.45},{"g":3,"x":6,"y":57,"v":0.35},{"g":3,"x":21,"y":57,"v":0.45},{"g":3,"x":53,"y":57,"v":0.42},{"g":3,"x":4,"y":58,"v":-0.18},{"g":3,"x":5,"y":58,"v":-0.18},{"g":3,"x":30,"y":58,"v":0.58},{"g":3,"x":9,"y":58,"v":-0.18},{"g":3,"x":11,"y":58,"v":-0.18},{"g":3,"x":14,"y":58,"v":-0.18},{"g":3,"x":16,"y":58,"v":0.4},{"g":3,"x":17,"y":58,"v":0.4},{"g":3,"x":36,"y":58,"v":0.42},{"g":3,"x":37,"y":58,"v":0.42},{"g":3,"x":50,"y":58,"v":0.42},{"g":3,"x":51,"y":58,"v":0.42},{"g":3,"x":55,"y":58,"v":0.47},{"g":3,"x":56,"y":58,"v":0.47},{"g":3,"x":57,"y":58,"v":0.47},{"g":3,"x":60,"y":58,"v":0.45},{"g":3,"x":64,"y":58,"v":0.45},{"g":3,"x":65,"y":58,"v":0.5},{"g":3,"x":44,"y":59,"v":0.52},{"g":3,"x":30,"y":60,"v":0.45},{"g":3,"x":35,"y":60,"v":0.42},{"g":3,"x":36,"y":60,"v":0.42},{"g":3,"x":50,"y":60,"v":0.55},{"g":3,"x":51,"y":60,"v":0.42},{"g":3,"x":55,"y":60,"v":0.55},{"g":3,"x":58,"y":60,"v":0.42},{"g":3,"x":63,"y":60,"v":0.48},{"g":3,"x":37,"y":61,"v":0.4},{"g":3,"x":45,"y":61,"v":0.45},{"g":3,"x":41,"y":62,"v":0.5},{"g":3,"x":47,"y":62,"v":0.42},{"g":3,"x":51,"y":62,"v":0.42},{"g":3,"x":63,"y":62,"v":0.5},{"g":3,"x":30,"y":62,"v":0.42},{"g":3,"x":31,"y":62,"v":0.42},{"g":3,"x":16,"y":62,"v":0.38},{"g":3,"x":17,"y":62,"v":0.38},{"g":3,"x":18,"y":62,"v":0.38},{"g":3,"x":30,"y":63,"v":0.4},{"g":3,"x":31,"y":63,"v":0.4},{"g":3,"x":35,"y":63,"v":0.42},{"g":3,"x":36,"y":63,"v":0.42},{"g":3,"x":50,"y":63,"v":0.52},{"g":3,"x":51,"y":63,"v":0.45},{"g":3,"x":55,"y":63,"v":0.58},{"g":3,"x":60,"y":63,"v":0.52},{"g":3,"x":63,"y":63,"v":0.5},{"g":3,"x":4,"y":64,"v":-0.18},{"g":3,"x":5,"y":64,"v":-0.18},{"g":3,"x":9,"y":64,"v":-0.18},{"g":3,"x":11,"y":64,"v":-0.18},{"g":3,"x":14,"y":64,"v":-0.18},{"g":3,"x":30,"y":64,"v":0.5},{"g":3,"x":31,"y":64,"v":0.4},{"g":3,"x":35,"y":64,"v":0.4},{"g":3,"x":36,"y":64,"v":0.4},{"g":3,"x":39,"y":64,"v":-0.18},{"g":3,"x":51,"y":64,"v":0.42},{"g":3,"x":55,"y":64,"v":0.4},{"g":3,"x":56,"y":64,"v":0.4},{"g":3,"x":58,"y":64,"v":0.45},{"g":3,"x":60,"y":64,"v":0.4},{"g":3,"x":16,"y":64,"v":0.38},{"g":3,"x":17,"y":64,"v":0.38},{"g":3,"x":18,"y":64,"v":0.38},{"g":3,"x":28,"y":64,"v":-0.18},{"g":3,"x":29,"y":64,"v":-0.18},{"g":3,"x":30,"y":65,"v":0.42},{"g":3,"x":36,"y":65,"v":0.4},{"g":3,"x":34,"y":66,"v":0.37},{"g":3,"x":51,"y":66,"v":0.42},{"g":3,"x":67,"y":66,"v":0.47},{"g":3,"x":56,"y":67,"v":0.45},{"g":3,"x":66,"y":67,"v":0.45},
{"g":4,"x":13,"y":0,"v":0.58},{"g":4,"x":29,"y":0,"v":0.58},{"g":4,"x":32,"y":0,"v":0.45},{"g":4,"x":2,"y":1,"v":0.55},{"g":4,"x":4,"y":1,"v":0.35},{"g":4,"x":12,"y":1,"v":0.45},{"g":4,"x":21,"y":1,"v":0.58},{"g":4,"x":22,"y":1,"v":0.4},{"g":4,"x":24,"y":1,"v":0.58},{"g":4,"x":25,"y":1,"v":0.58},{"g":4,"x":31,"y":1,"v":0.35},{"g":4,"x":49,"y":1,"v":0.4},{"g":4,"x":50,"y":1,"v":0.35},{"g":4,"x":60,"y":1,"v":0.58},{"g":4,"x":1,"y":2,"v":0.58},{"g":4,"x":21,"y":2,"v":0.45},{"g":4,"x":24,"y":2,"v":0.52},{"g":4,"x":25,"y":2,"v":0.58},{"g":4,"x":60,"y":2,"v":0.5},{"g":4,"x":6,"y":3,"v":0.42},{"g":4,"x":9,"y":3,"v":0.42},{"g":4,"x":11,"y":3,"v":0.42},{"g":4,"x":31,"y":3,"v":-0.18},{"g":4,"x":57,"y":3,"v":0.4},{"g":4,"x":1,"y":4,"v":0.37},{"g":4,"x":2,"y":4,"v":0.37},{"g":4,"x":21,"y":4,"v":0.33},{"g":4,"x":24,"y":4,"v":0.33},{"g":4,"x":25,"y":4,"v":0.33},{"g":4,"x":60,"y":4,"v":0.38},{"g":4,"x":7,"y":5,"v":0.5},{"g":4,"x":9,"y":5,"v":0.33},{"g":4,"x":14,"y":5,"v":0.5},{"g":4,"x":19,"y":5,"v":0.55},{"g":4,"x":30,"y":5,"v":-0.18},{"g":4,"x":31,"y":5,"v":-0.18},{"g":4,"x":64,"y":5,"v":-0.15},{"g":4,"x":3,"y":6,"v":0.45},{"g":4,"x":28,"y":6,"v":0.5},{"g":4,"x":57,"y":6,"v":0.35},{"g":4,"x":5,"y":7,"v":0.52},{"g":4,"x":19,"y":7,"v":0.5},{"g":4,"x":27,"y":7,"v":0.4},{"g":4,"x":60,"y":7,"v":0.33},{"g":4,"x":15,"y":8,"v":0.45},{"g":4,"x":55,"y":8,"v":0.45},{"g":4,"x":3,"y":9,"v":0.45},{"g":4,"x":5,"y":9,"v":0.38},{"g":4,"x":11,"y":9,"v":0.58},{"g":4,"x":13,"y":9,"v":0.35},{"g":4,"x":14,"y":9,"v":0.35},{"g":4,"x":19,"y":9,"v":0.4},{"g":4,"x":30,"y":9,"v":-0.18},{"g":4,"x":31,"y":9,"v":-0.18},{"g":4,"x":9,"y":11,"v":0.55},{"g":4,"x":13,"y":11,"v":0.35},{"g":4,"x":18,"y":11,"v":0.35},{"g":4,"x":19,"y":11,"v":0.35},{"g":4,"x":31,"y":11,"v":-0.15},{"g":4,"x":1,"y":12,"v":0.42},{"g":4,"x":2,"y":12,"v":0.42},{"g":4,"x":4,"y":12,"v":0.33},{"g":4,"x":21,"y":12,"v":0.38},{"g":4,"x":24,"y":12,"v":0.42},{"g":4,"x":25,"y":12,"v":0.47},{"g":4,"x":60,"y":12,"v":0.42},{"g":4,"x":33,"y":12,"v":0.4},{"g":4,"x":0,"y":13,"v":0.58},{"g":4,"x":11,"y":13,"v":0.37},{"g":4,"x":23,"y":13,"v":0.35},{"g":4,"x":29,"y":13,"v":0.55},{"g":4,"x":32,"y":13,"v":0.35},{"g":4,"x":5,"y":14,"v":0.45},{"g":4,"x":19,"y":14,"v":0.4},{"g":4,"x":8,"y":15,"v":0.45},{"g":4,"x":55,"y":15,"v":0.45},{"g":4,"x":23,"y":17,"v":-0.18},{"g":4,"x":37,"y":17,"v":-0.18},{"g":4,"x":42,"y":17,"v":-0.17},{"g":4,"x":30,"y":17,"v":0.33},{"g":4,"x":50,"y":17,"v":0.33},{"g":4,"x":58,"y":17,"v":0.33},{"g":4,"x":61,"y":17,"v":0.37},{"g":4,"x":26,"y":18,"v":0.42},{"g":4,"x":5,"y":19,"v":0.55},{"g":4,"x":7,"y":19,"v":0.45},{"g":4,"x":14,"y":19,"v":0.4},{"g":4,"x":27,"y":19,"v":0.5},{"g":4,"x":30,"y":19,"v":-0.18},{"g":4,"x":31,"y":19,"v":-0.18},{"g":4,"x":37,"y":19,"v":0.37},{"g":4,"x":1,"y":21,"v":0.35},{"g":4,"x":2,"y":21,"v":0.52},{"g":4,"x":12,"y":21,"v":0.37},{"g":4,"x":24,"y":21,"v":0.5},{"g":4,"x":25,"y":21,"v":0.52},{"g":4,"x":49,"y":21,"v":0.42},{"g":4,"x":60,"y":21,"v":0.47},{"g":4,"x":2,"y":22,"v":0.33},{"g":4,"x":24,"y":22,"v":0.35},{"g":4,"x":25,"y":22,"v":0.35},{"g":4,"x":60,"y":22,"v":0.35},{"g":4,"x":17,"y":23,"v":-0.18},{"g":4,"x":27,"y":23,"v":0.42},{"g":4,"x":29,"y":23,"v":0.35},{"g":4,"x":30,"y":23,"v":-0.18},{"g":4,"x":37,"y":23,"v":0.35},{"g":4,"x":65,"y":23,"v":-0.18},{"g":4,"x":66,"y":23,"v":-0.18},{"g":4,"x":1,"y":24,"v":0.58},{"g":4,"x":2,"y":24,"v":0.5},{"g":4,"x":12,"y":24,"v":0.47},{"g":4,"x":21,"y":24,"v":0.58},{"g":4,"x":22,"y":24,"v":0.4},{"g":4,"x":25,"y":24,"v":0.55},{"g":4,"x":60,"y":24,"v":0.58},{"g":4,"x":1,"y":25,"v":0.58},{"g":4,"x":2,"y":25,"v":0.58},{"g":4,"x":12,"y":25,"v":0.5},{"g":4,"x":21,"y":25,"v":0.42},{"g":4,"x":24,"y":25,"v":0.55},{"g":4,"x":31,"y":25,"v":0.37},{"g":4,"x":49,"y":25,"v":0.38},{"g":4,"x":50,"y":25,"v":0.38},{"g":4,"x":60,"y":25,"v":0.58},{"g":4,"x":18,"y":26,"v":0.35},{"g":4,"x":36,"y":26,"v":0.5},{"g":4,"x":55,"y":26,"v":0.35},{"g":4,"x":56,"y":26,"v":0.37},{"g":4,"x":5,"y":27,"v":0.33},{"g":4,"x":7,"y":27,"v":0.4},{"g":4,"x":19,"y":27,"v":0.5},{"g":4,"x":23,"y":27,"v":0.4},{"g":4,"x":37,"y":27,"v":0.35},{"g":4,"x":6,"y":28,"v":0.47},{"g":4,"x":0,"y":29,"v":0.55},{"g":4,"x":13,"y":29,"v":0.55},{"g":4,"x":32,"y":29,"v":0.42},{"g":4,"x":34,"y":30,"v":0.42},{"g":4,"x":39,"y":30,"v":0.4},{"g":4,"x":40,"y":30,"v":0.42},{"g":4,"x":62,"y":30,"v":0.42},{"g":4,"x":63,"y":30,"v":0.42},{"g":4,"x":37,"y":30,"v":-0.18},{"g":4,"x":3,"y":31,"v":-0.18},{"g":4,"x":5,"y":31,"v":-0.18},{"g":4,"x":9,"y":31,"v":-0.18},{"g":4,"x":11,"y":31,"v":-0.18},{"g":4,"x":19,"y":31,"v":-0.18},{"g":4,"x":23,"y":31,"v":-0.18},{"g":4,"x":0,"y":31,"v":0.33},{"g":4,"x":1,"y":31,"v":0.33},{"g":4,"x":2,"y":31,"v":0.33},{"g":4,"x":25,"y":31,"v":0.35},{"g":4,"x":32,"y":31,"v":0.33},{"g":4,"x":43,"y":31,"v":-0.18},{"g":4,"x":47,"y":31,"v":-0.18},{"g":4,"x":61,"y":31,"v":-0.15},{"g":4,"x":63,"y":31,"v":-0.15},{"g":4,"x":0,"y":32,"v":0.45},{"g":4,"x":30,"y":32,"v":0.38},{"g":4,"x":12,"y":33,"v":0.4},{"g":4,"x":40,"y":34,"v":0.48},{"g":4,"x":41,"y":34,"v":0.55},{"g":4,"x":61,"y":34,"v":0.5},{"g":4,"x":62,"y":34,"v":0.55},{"g":4,"x":63,"y":34,"v":0.42},{"g":4,"x":64,"y":34,"v":0.47},{"g":4,"x":65,"y":34,"v":0.42},{"g":4,"x":43,"y":34,"v":0.35},{"g":4,"x":3,"y":35,"v":0.33},{"g":4,"x":4,"y":35,"v":0.33},{"g":4,"x":40,"y":35,"v":0.33},{"g":4,"x":26,"y":36,"v":0.5},{"g":4,"x":54,"y":36,"v":0.55},{"g":4,"x":56,"y":36,"v":0.37},{"g":4,"x":17,"y":37,"v":-0.18},{"g":4,"x":19,"y":37,"v":0.37},{"g":4,"x":23,"y":37,"v":0.37},{"g":4,"x":31,"y":37,"v":-0.18},{"g":4,"x":40,"y":39,"v":0.45},{"g":4,"x":30,"y":40,"v":0.42},{"g":4,"x":34,"y":40,"v":0.38},{"g":4,"x":41,"y":40,"v":0.42},{"g":4,"x":45,"y":40,"v":0.5},{"g":4,"x":30,"y":41,"v":0.42},{"g":4,"x":34,"y":41,"v":0.5},{"g":4,"x":39,"y":41,"v":0.38},{"g":4,"x":40,"y":41,"v":0.38},{"g":4,"x":62,"y":41,"v":0.45},{"g":4,"x":64,"y":41,"v":0.42},{"g":4,"x":65,"y":41,"v":0.42},{"g":4,"x":45,"y":42,"v":0.42},{"g":4,"x":48,"y":43,"v":0.55},{"g":4,"x":61,"y":43,"v":0.5},{"g":4,"x":63,"y":43,"v":0.5},{"g":4,"x":31,"y":43,"v":-0.15},{"g":4,"x":51,"y":44,"v":0.35},{"g":4,"x":52,"y":44,"v":0.45},{"g":4,"x":39,"y":45,"v":0.55},{"g":4,"x":41,"y":45,"v":0.4},{"g":4,"x":42,"y":45,"v":0.4},{"g":4,"x":51,"y":46,"v":0.55},{"g":4,"x":52,"y":46,"v":0.45},{"g":4,"x":58,"y":46,"v":0.47},{"g":4,"x":59,"y":46,"v":0.47},{"g":4,"x":43,"y":48,"v":0.55},{"g":4,"x":1,"y":49,"v":0.38},{"g":4,"x":2,"y":49,"v":0.38},{"g":4,"x":21,"y":49,"v":0.42},{"g":4,"x":24,"y":49,"v":0.38},{"g":4,"x":25,"y":49,"v":0.38},{"g":4,"x":60,"y":49,"v":0.33},{"g":4,"x":35,"y":49,"v":0.37},{"g":4,"x":2,"y":50,"v":0.33},{"g":4,"x":23,"y":50,"v":-0.18},{"g":4,"x":24,"y":50,"v":0.38},{"g":4,"x":25,"y":50,"v":0.38},{"g":4,"x":34,"y":50,"v":0.38},{"g":4,"x":64,"y":50,"v":0.45},{"g":4,"x":66,"y":50,"v":0.42},{"g":4,"x":44,"y":51,"v":0.4},{"g":4,"x":46,"y":51,"v":0.55},{"g":4,"x":52,"y":51,"v":0.58},{"g":4,"x":58,"y":51,"v":0.43},{"g":4,"x":59,"y":51,"v":0.43},{"g":4,"x":64,"y":51,"v":0.45},{"g":4,"x":44,"y":52,"v":0.47},{"g":4,"x":46,"y":52,"v":0.42},{"g":4,"x":51,"y":52,"v":0.55},{"g":4,"x":58,"y":52,"v":0.45},{"g":4,"x":59,"y":52,"v":0.45},{"g":4,"x":64,"y":52,"v":0.55},{"g":4,"x":36,"y":54,"v":0.55},{"g":4,"x":35,"y":54,"v":0.33},{"g":4,"x":31,"y":54,"v":-0.18},{"g":4,"x":67,"y":54,"v":0.48},{"g":4,"x":8,"y":55,"v":0.45},{"g":4,"x":15,"y":55,"v":0.45},{"g":4,"x":36,"y":56,"v":0.4},{"g":4,"x":26,"y":56,"v":0.37},{"g":4,"x":30,"y":56,"v":-0.15},{"g":4,"x":38,"y":56,"v":-0.15},{"g":4,"x":67,"y":56,"v":0.4},{"g":4,"x":3,"y":58,"v":0.4},{"g":4,"x":6,"y":58,"v":0.35},{"g":4,"x":21,"y":58,"v":0.35},{"g":4,"x":44,"y":59,"v":0.45},{"g":4,"x":51,"y":59,"v":0.42},{"g":4,"x":44,"y":60,"v":0.45},{"g":4,"x":51,"y":60,"v":0.45},{"g":4,"x":1,"y":61,"v":0.55},{"g":4,"x":2,"y":61,"v":0.47},{"g":4,"x":4,"y":61,"v":0.37},{"g":4,"x":12,"y":61,"v":0.45},{"g":4,"x":21,"y":61,"v":0.48},{"g":4,"x":22,"y":61,"v":0.37},{"g":4,"x":24,"y":61,"v":0.58},{"g":4,"x":25,"y":61,"v":0.58},{"g":4,"x":36,"y":61,"v":0.38},{"g":4,"x":37,"y":61,"v":0.38},{"g":4,"x":49,"y":61,"v":0.38},{"g":4,"x":50,"y":61,"v":0.38},{"g":4,"x":54,"y":61,"v":0.38},{"g":4,"x":34,"y":62,"v":0.47},{"g":4,"x":39,"y":62,"v":0.4},{"g":4,"x":41,"y":62,"v":0.33},{"g":4,"x":43,"y":62,"v":0.5},{"g":4,"x":63,"y":62,"v":0.55},{"g":4,"x":34,"y":63,"v":0.45},{"g":4,"x":40,"y":63,"v":0.4},{"g":4,"x":41,"y":63,"v":0.55},{"g":4,"x":34,"y":64,"v":0.47},{"g":4,"x":43,"y":65,"v":0.47},{"g":4,"x":61,"y":65,"v":0.55},{"g":4,"x":5,"y":65,"v":-0.18},{"g":4,"x":51,"y":65,"v":0.48},{"g":4,"x":52,"y":65,"v":0.58},{"g":4,"x":44,"y":65,"v":0.4},{"g":4,"x":45,"y":65,"v":0.4},{"g":4,"x":34,"y":66,"v":0.42},{"g":4,"x":40,"y":66,"v":0.42},{"g":4,"x":41,"y":66,"v":0.42},{"g":4,"x":17,"y":66,"v":0.37},{"g":4,"x":23,"y":66,"v":-0.18},{"g":4,"x":34,"y":67,"v":0.37},{"g":4,"x":35,"y":67,"v":0.37},{"g":4,"x":54,"y":67,"v":0.5},{"g":4,"x":56,"y":67,"v":0.37}
]},
"hconcat":[
{"width":674,"height":674,"layer":[
{"data":{"name":"b"},"transform":[{"filter":"datum.g==1"}],"mark":{"type":"rect","clip":true},"encoding":{"x":{"field":"x","bin":{"step":5,"extent":[0,70]},"scale":{"domain":[0,68],"nice":false,"zero":false},"axis":{"title":"Group 1","domain":false,"ticks":false,"labels":false,"grid":false,"titleFontSize":40,"titleColor":"#262626","titleFontWeight":"normal","titlePadding":10}},"y":{"field":"y","bin":{"step":5,"extent":[0,70]},"scale":{"domain":[0,68],"nice":false,"zero":false,"reverse":true},"axis":null},"color":{"field":"v","type":"quantitative","scale":{"domain":[-0.2,-0.12,-0.04,0.04,0.12,0.2,0.28,0.36,0.44,0.52,0.6],"range":["#03051a","#221331","#451c47","#6a1f56","#921c5b","#b91657","#dd2c45","#f0553c","#f58860","#f7b28f","#faebdd"]},"legend":{"title":null,"type":"gradient","values":[-0.2,-0.1,0,0.1,0.2,0.3,0.4,0.5,0.6],"format":".1f","gradientLength":680,"gradientThickness":20,"gradientStrokeColor":"#cccccc","gradientStrokeWidth":2,"labelFontSize":25,"labelColor":"#262626","labelOffset":22,"offset":40,"labelOverlap":false}}}},
{"data":{"name":"c"},"transform":[{"filter":"datum.g==1"}],"mark":{"type":"rect","clip":true},"encoding":{"x":{"field":"x","bin":{"step":1,"extent":[0,68]},"axis":{"title":"Group 1","domain":false,"ticks":false,"labels":false,"grid":false,"titleFontSize":40,"titleColor":"#262626","titleFontWeight":"normal","titlePadding":10}},"y":{"field":"y","bin":{"step":1,"extent":[0,68]},"axis":null},"color":{"field":"v","type":"quantitative"}}}
]},
{"width":674,"height":674,"layer":[
{"data":{"name":"b"},"transform":[{"filter":"datum.g==2"}],"mark":{"type":"rect","clip":true},"encoding":{"x":{"field":"x","bin":{"step":5,"extent":[0,70]},"scale":{"domain":[0,68],"nice":false,"zero":false},"axis":{"title":"Group 2","domain":false,"ticks":false,"labels":false,"grid":false,"titleFontSize":40,"titleColor":"#262626","titleFontWeight":"normal","titlePadding":10}},"y":{"field":"y","bin":{"step":5,"extent":[0,70]},"scale":{"domain":[0,68],"nice":false,"zero":false,"reverse":true},"axis":null},"color":{"field":"v","type":"quantitative"}}},
{"data":{"name":"c"},"transform":[{"filter":"datum.g==2"}],"mark":{"type":"rect","clip":true},"encoding":{"x":{"field":"x","bin":{"step":1,"extent":[0,68]},"axis":{"title":"Group 2","domain":false,"ticks":false,"labels":false,"grid":false,"titleFontSize":40,"titleColor":"#262626","titleFontWeight":"normal","titlePadding":10}},"y":{"field":"y","bin":{"step":1,"extent":[0,68]},"axis":null},"color":{"field":"v","type":"quantitative"}}}
]},
{"width":674,"height":674,"layer":[
{"data":{"name":"b"},"transform":[{"filter":"datum.g==3"}],"mark":{"type":"rect","clip":true},"encoding":{"x":{"field":"x","bin":{"step":5,"extent":[0,70]},"scale":{"domain":[0,68],"nice":false,"zero":false},"axis":{"title":"Group 3","domain":false,"ticks":false,"labels":false,"grid":false,"titleFontSize":40,"titleColor":"#262626","titleFontWeight":"normal","titlePadding":10}},"y":{"field":"y","bin":{"step":5,"extent":[0,70]},"scale":{"domain":[0,68],"nice":false,"zero":false,"reverse":true},"axis":null},"color":{"field":"v","type":"quantitative"}}},
{"data":{"name":"c"},"transform":[{"filter":"datum.g==3"}],"mark":{"type":"rect","clip":true},"encoding":{"x":{"field":"x","bin":{"step":1,"extent":[0,68]},"axis":{"title":"Group 3","domain":false,"ticks":false,"labels":false,"grid":false,"titleFontSize":40,"titleColor":"#262626","titleFontWeight":"normal","titlePadding":10}},"y":{"field":"y","bin":{"step":1,"extent":[0,68]},"axis":null},"color":{"field":"v","type":"quantitative"}}}
]},
{"width":674,"height":674,"layer":[
{"data":{"name":"b"},"transform":[{"filter":"datum.g==4"}],"mark":{"type":"rect","clip":true},"encoding":{"x":{"field":"x","bin":{"step":5,"extent":[0,70]},"scale":{"domain":[0,68],"nice":false,"zero":false},"axis":{"title":"Group 4","domain":false,"ticks":false,"labels":false,"grid":false,"titleFontSize":40,"titleColor":"#262626","titleFontWeight":"normal","titlePadding":10}},"y":{"field":"y","bin":{"step":5,"extent":[0,70]},"scale":{"domain":[0,68],"nice":false,"zero":false,"reverse":true},"axis":null},"color":{"field":"v","type":"quantitative"}}},
{"data":{"name":"c"},"transform":[{"filter":"datum.g==4"}],"mark":{"type":"rect","clip":true},"encoding":{"x":{"field":"x","bin":{"step":1,"extent":[0,68]},"axis":{"title":"Group 4","domain":false,"ticks":false,"labels":false,"grid":false,"titleFontSize":40,"titleColor":"#262626","titleFontWeight":"normal","titlePadding":10}},"y":{"field":"y","bin":{"step":1,"extent":[0,68]},"axis":null},"color":{"field":"v","type":"quantitative"}}}
]}
]}
